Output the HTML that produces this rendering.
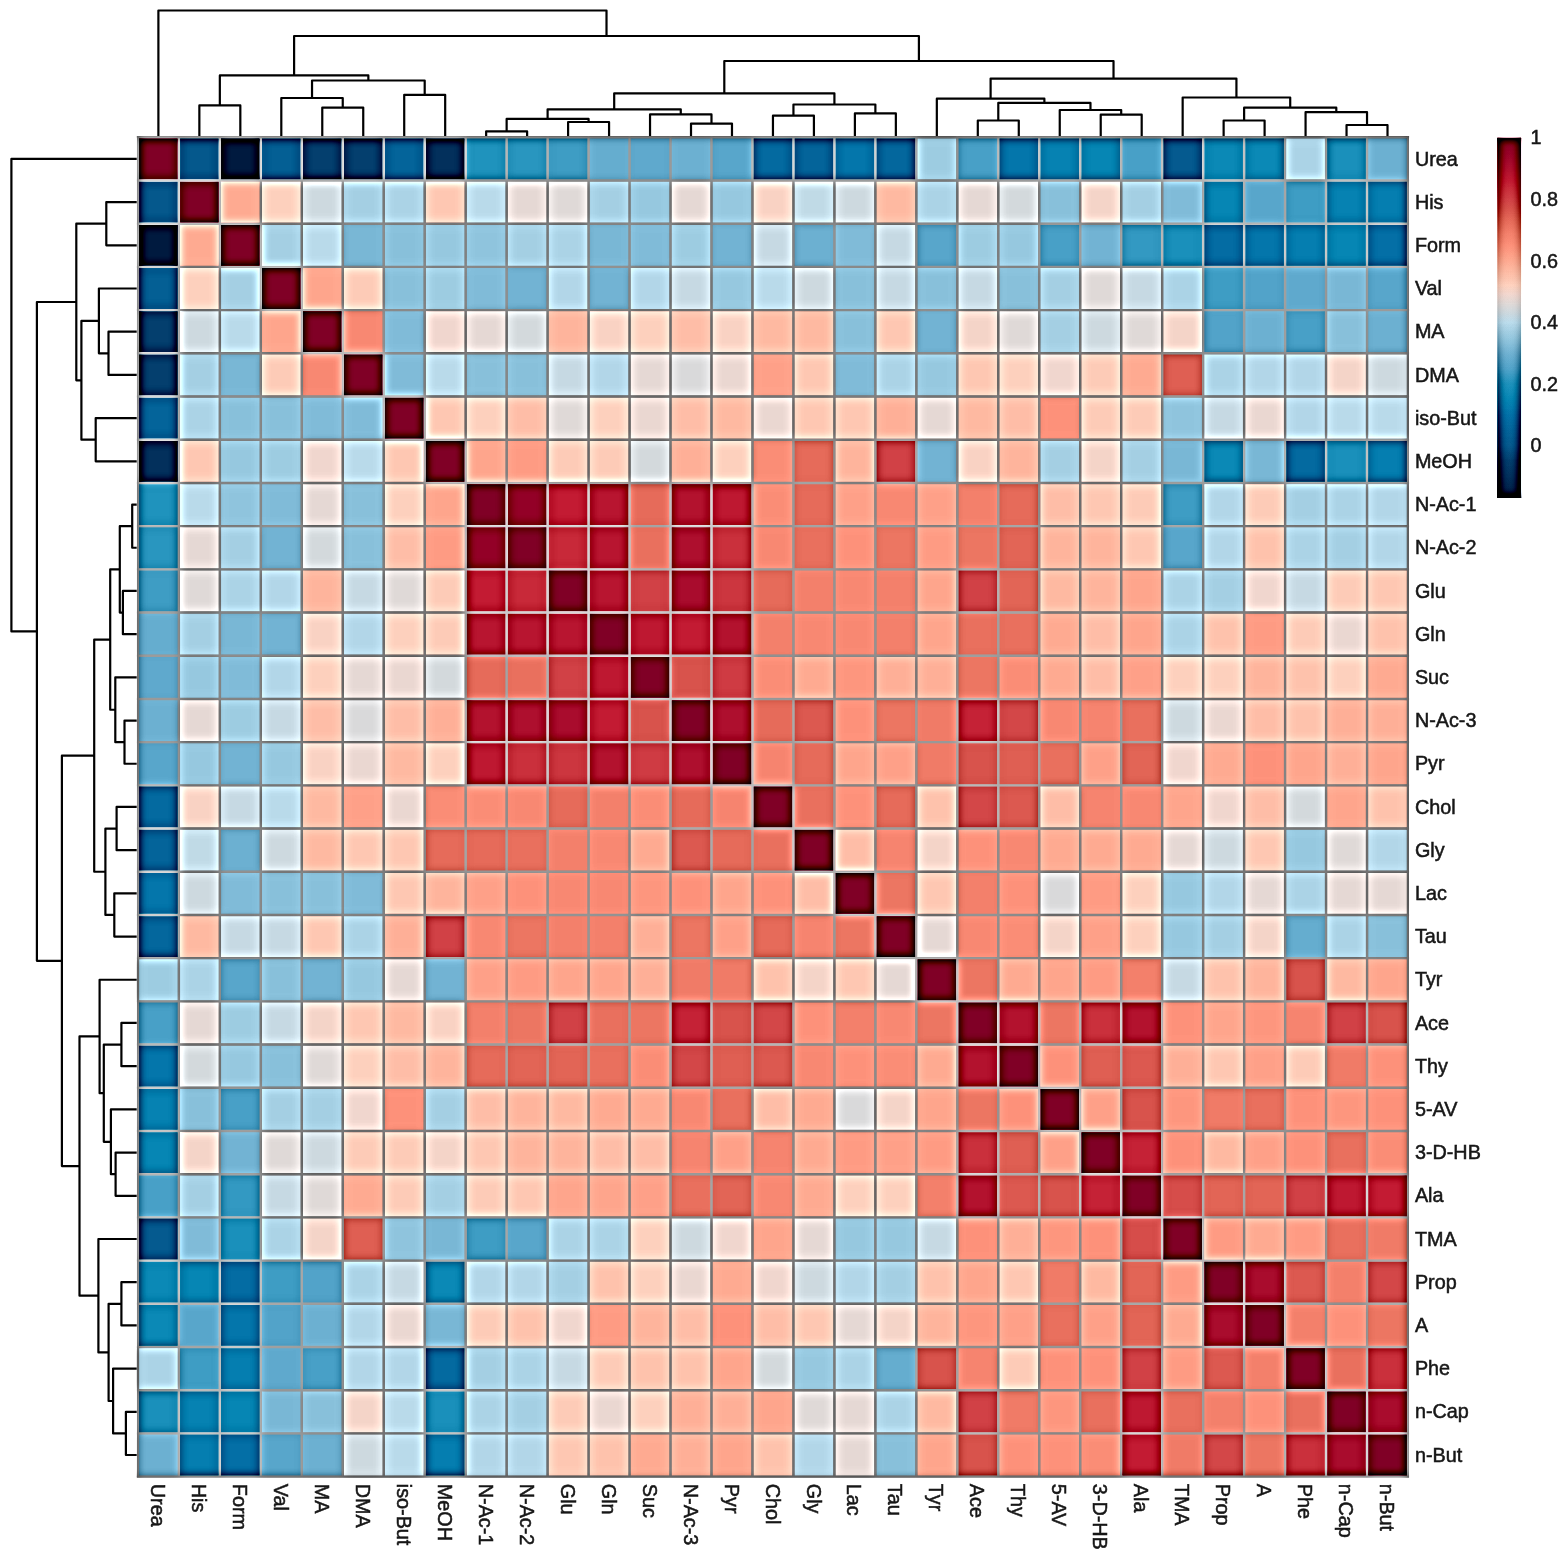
<!DOCTYPE html>
<html lang="en"><head><meta charset="utf-8"><title>Correlation heatmap</title>
<style>html,body{margin:0;padding:0;background:#fff}body{width:1566px;height:1556px;overflow:hidden}svg{display:block}</style>
</head><body>
<svg width="1566" height="1556" viewBox="0 0 1566 1556" font-family="'Liberation Sans', Arial, sans-serif" font-size="19.8" fill="#151515">
<defs><linearGradient id="cb" x1="0" y1="1" x2="0" y2="0">
<stop offset="0.0000" stop-color="#001a3f"/>
<stop offset="0.0598" stop-color="#03305c"/>
<stop offset="0.1026" stop-color="#043f6e"/>
<stop offset="0.1453" stop-color="#05588c"/>
<stop offset="0.1880" stop-color="#04649a"/>
<stop offset="0.2308" stop-color="#0472a9"/>
<stop offset="0.2735" stop-color="#0686b4"/>
<stop offset="0.3162" stop-color="#1f93bd"/>
<stop offset="0.3590" stop-color="#52a3c9"/>
<stop offset="0.4017" stop-color="#72b3d3"/>
<stop offset="0.4444" stop-color="#96c8df"/>
<stop offset="0.4872" stop-color="#b9daea"/>
<stop offset="0.5128" stop-color="#cdd9df"/>
<stop offset="0.5385" stop-color="#dfd9d7"/>
<stop offset="0.5641" stop-color="#f0d6ce"/>
<stop offset="0.5897" stop-color="#fdd0bd"/>
<stop offset="0.6154" stop-color="#fec2ac"/>
<stop offset="0.6410" stop-color="#feb49c"/>
<stop offset="0.6667" stop-color="#fea58c"/>
<stop offset="0.7009" stop-color="#fd917a"/>
<stop offset="0.7350" stop-color="#f3806b"/>
<stop offset="0.7692" stop-color="#e66b5a"/>
<stop offset="0.8034" stop-color="#d8534c"/>
<stop offset="0.8291" stop-color="#d14146"/>
<stop offset="0.8547" stop-color="#ca303c"/>
<stop offset="0.8803" stop-color="#c31b33"/>
<stop offset="0.9060" stop-color="#b3122e"/>
<stop offset="0.9231" stop-color="#a90c2d"/>
<stop offset="0.9658" stop-color="#930027"/>
<stop offset="1.0000" stop-color="#800026"/>
</linearGradient>
<filter id="sh" x="0" y="0" width="1566" height="1556" filterUnits="userSpaceOnUse" color-interpolation-filters="sRGB">
<feGaussianBlur in="SourceGraphic" stdDeviation="0.5" result="S"/>
<feColorMatrix in="S" type="matrix" values="0.299 0.587 0.114 0 0  0 0 0 0 0  0 0 0 0 0  0 0 0 0 1" result="L"/>
<feGaussianBlur in="L" stdDeviation="4.2" result="Lb0"/>
<feColorMatrix in="Lb0" type="matrix" values="0 0 0 0 0  1 0 0 0 0  0 0 0 0 0  0 0 0 0 1" result="Lb"/>
<feComposite in="L" in2="Lb" operator="arithmetic" k1="0" k2="1" k3="1" k4="0" result="P"/>
<feColorMatrix in="P" type="matrix" values="0.5 -0.5 0 0 0.5  0.5 -0.5 0 0 0.5  0.5 -0.5 0 0 0.5  0 0 0 0 1" result="D"/>
<feComposite in="S" in2="D" operator="arithmetic" k1="0" k2="1" k3="3.4" k4="-1.7"/>
</filter>
<filter id="soft" x="0" y="0" width="1566" height="1556" filterUnits="userSpaceOnUse"><feGaussianBlur stdDeviation="0.6"/></filter></defs>
<g filter="url(#sh)"><rect x="0" y="0" width="1566" height="1556" fill="#fff"/>
<g id="hm" shape-rendering="crispEdges">
<rect x="137.90" y="137.30" width="41.02" height="43.25" fill="#800026"/>
<rect x="178.87" y="137.30" width="41.02" height="43.25" fill="#05588c"/>
<rect x="219.84" y="137.30" width="41.02" height="43.25" fill="#001a3f"/>
<rect x="260.81" y="137.30" width="41.02" height="43.25" fill="#045f94"/>
<rect x="301.78" y="137.30" width="41.02" height="43.25" fill="#043f6e"/>
<rect x="342.75" y="137.30" width="41.02" height="43.25" fill="#043f6e"/>
<rect x="383.73" y="137.30" width="41.02" height="43.25" fill="#04649a"/>
<rect x="424.70" y="137.30" width="41.02" height="43.25" fill="#03305c"/>
<rect x="465.67" y="137.30" width="41.02" height="43.25" fill="#1f93bd"/>
<rect x="506.64" y="137.30" width="41.02" height="43.25" fill="#2996bf"/>
<rect x="547.61" y="137.30" width="41.02" height="43.25" fill="#3e9dc4"/>
<rect x="588.58" y="137.30" width="41.02" height="43.25" fill="#65adcf"/>
<rect x="629.55" y="137.30" width="41.02" height="43.25" fill="#5fa9cd"/>
<rect x="670.52" y="137.30" width="41.02" height="43.25" fill="#6cb0d1"/>
<rect x="711.49" y="137.30" width="41.02" height="43.25" fill="#58a6cb"/>
<rect x="752.46" y="137.30" width="41.02" height="43.25" fill="#046aa0"/>
<rect x="793.44" y="137.30" width="41.02" height="43.25" fill="#04649a"/>
<rect x="834.41" y="137.30" width="41.02" height="43.25" fill="#0476ab"/>
<rect x="875.38" y="137.30" width="41.02" height="43.25" fill="#04679d"/>
<rect x="916.35" y="137.30" width="41.02" height="43.25" fill="#9dcce1"/>
<rect x="957.32" y="137.30" width="41.02" height="43.25" fill="#48a0c7"/>
<rect x="998.29" y="137.30" width="41.02" height="43.25" fill="#0476ab"/>
<rect x="1039.26" y="137.30" width="41.02" height="43.25" fill="#0682b2"/>
<rect x="1080.23" y="137.30" width="41.02" height="43.25" fill="#0686b4"/>
<rect x="1121.20" y="137.30" width="41.02" height="43.25" fill="#48a0c7"/>
<rect x="1162.17" y="137.30" width="41.02" height="43.25" fill="#055a8f"/>
<rect x="1203.15" y="137.30" width="41.02" height="43.25" fill="#0b89b6"/>
<rect x="1244.12" y="137.30" width="41.02" height="43.25" fill="#0b89b6"/>
<rect x="1285.09" y="137.30" width="41.02" height="43.25" fill="#abd3e6"/>
<rect x="1326.06" y="137.30" width="41.02" height="43.25" fill="#1a90bb"/>
<rect x="1367.03" y="137.30" width="41.02" height="43.25" fill="#6cb0d1"/>
<rect x="137.90" y="180.50" width="41.02" height="43.25" fill="#05588c"/>
<rect x="178.87" y="180.50" width="41.02" height="43.25" fill="#800026"/>
<rect x="219.84" y="180.50" width="41.02" height="43.25" fill="#feaa91"/>
<rect x="260.81" y="180.50" width="41.02" height="43.25" fill="#fdd0bd"/>
<rect x="301.78" y="180.50" width="41.02" height="43.25" fill="#cdd9df"/>
<rect x="342.75" y="180.50" width="41.02" height="43.25" fill="#a4cfe3"/>
<rect x="383.73" y="180.50" width="41.02" height="43.25" fill="#abd3e6"/>
<rect x="424.70" y="180.50" width="41.02" height="43.25" fill="#fec7b2"/>
<rect x="465.67" y="180.50" width="41.02" height="43.25" fill="#b9daea"/>
<rect x="506.64" y="180.50" width="41.02" height="43.25" fill="#e5d8d4"/>
<rect x="547.61" y="180.50" width="41.02" height="43.25" fill="#dfd9d7"/>
<rect x="588.58" y="180.50" width="41.02" height="43.25" fill="#a4cfe3"/>
<rect x="629.55" y="180.50" width="41.02" height="43.25" fill="#96c8df"/>
<rect x="670.52" y="180.50" width="41.02" height="43.25" fill="#e5d8d4"/>
<rect x="711.49" y="180.50" width="41.02" height="43.25" fill="#96c8df"/>
<rect x="752.46" y="180.50" width="41.02" height="43.25" fill="#f9d2c3"/>
<rect x="793.44" y="180.50" width="41.02" height="43.25" fill="#c0dae6"/>
<rect x="834.41" y="180.50" width="41.02" height="43.25" fill="#cdd9df"/>
<rect x="875.38" y="180.50" width="41.02" height="43.25" fill="#feb9a1"/>
<rect x="916.35" y="180.50" width="41.02" height="43.25" fill="#abd3e6"/>
<rect x="957.32" y="180.50" width="41.02" height="43.25" fill="#e5d8d4"/>
<rect x="998.29" y="180.50" width="41.02" height="43.25" fill="#d3d9dc"/>
<rect x="1039.26" y="180.50" width="41.02" height="43.25" fill="#88c0da"/>
<rect x="1080.23" y="180.50" width="41.02" height="43.25" fill="#f4d4c8"/>
<rect x="1121.20" y="180.50" width="41.02" height="43.25" fill="#a4cfe3"/>
<rect x="1162.17" y="180.50" width="41.02" height="43.25" fill="#80bbd8"/>
<rect x="1203.15" y="180.50" width="41.02" height="43.25" fill="#0686b4"/>
<rect x="1244.12" y="180.50" width="41.02" height="43.25" fill="#58a6cb"/>
<rect x="1285.09" y="180.50" width="41.02" height="43.25" fill="#3e9dc4"/>
<rect x="1326.06" y="180.50" width="41.02" height="43.25" fill="#0682b2"/>
<rect x="1367.03" y="180.50" width="41.02" height="43.25" fill="#057eb0"/>
<rect x="137.90" y="223.71" width="41.02" height="43.25" fill="#001a3f"/>
<rect x="178.87" y="223.71" width="41.02" height="43.25" fill="#feaa91"/>
<rect x="219.84" y="223.71" width="41.02" height="43.25" fill="#800026"/>
<rect x="260.81" y="223.71" width="41.02" height="43.25" fill="#a4cfe3"/>
<rect x="301.78" y="223.71" width="41.02" height="43.25" fill="#b9daea"/>
<rect x="342.75" y="223.71" width="41.02" height="43.25" fill="#79b7d5"/>
<rect x="383.73" y="223.71" width="41.02" height="43.25" fill="#88c0da"/>
<rect x="424.70" y="223.71" width="41.02" height="43.25" fill="#96c8df"/>
<rect x="465.67" y="223.71" width="41.02" height="43.25" fill="#8fc4dd"/>
<rect x="506.64" y="223.71" width="41.02" height="43.25" fill="#a4cfe3"/>
<rect x="547.61" y="223.71" width="41.02" height="43.25" fill="#abd3e6"/>
<rect x="588.58" y="223.71" width="41.02" height="43.25" fill="#79b7d5"/>
<rect x="629.55" y="223.71" width="41.02" height="43.25" fill="#80bbd8"/>
<rect x="670.52" y="223.71" width="41.02" height="43.25" fill="#9dcce1"/>
<rect x="711.49" y="223.71" width="41.02" height="43.25" fill="#72b3d3"/>
<rect x="752.46" y="223.71" width="41.02" height="43.25" fill="#c6d9e3"/>
<rect x="793.44" y="223.71" width="41.02" height="43.25" fill="#6cb0d1"/>
<rect x="834.41" y="223.71" width="41.02" height="43.25" fill="#80bbd8"/>
<rect x="875.38" y="223.71" width="41.02" height="43.25" fill="#c6d9e3"/>
<rect x="916.35" y="223.71" width="41.02" height="43.25" fill="#58a6cb"/>
<rect x="957.32" y="223.71" width="41.02" height="43.25" fill="#9dcce1"/>
<rect x="998.29" y="223.71" width="41.02" height="43.25" fill="#96c8df"/>
<rect x="1039.26" y="223.71" width="41.02" height="43.25" fill="#48a0c7"/>
<rect x="1080.23" y="223.71" width="41.02" height="43.25" fill="#72b3d3"/>
<rect x="1121.20" y="223.71" width="41.02" height="43.25" fill="#3399c2"/>
<rect x="1162.17" y="223.71" width="41.02" height="43.25" fill="#1a90bb"/>
<rect x="1203.15" y="223.71" width="41.02" height="43.25" fill="#046ca3"/>
<rect x="1244.12" y="223.71" width="41.02" height="43.25" fill="#0476ab"/>
<rect x="1285.09" y="223.71" width="41.02" height="43.25" fill="#057eb0"/>
<rect x="1326.06" y="223.71" width="41.02" height="43.25" fill="#0686b4"/>
<rect x="1367.03" y="223.71" width="41.02" height="43.25" fill="#046fa6"/>
<rect x="137.90" y="266.91" width="41.02" height="43.25" fill="#045f94"/>
<rect x="178.87" y="266.91" width="41.02" height="43.25" fill="#fdd0bd"/>
<rect x="219.84" y="266.91" width="41.02" height="43.25" fill="#a4cfe3"/>
<rect x="260.81" y="266.91" width="41.02" height="43.25" fill="#800026"/>
<rect x="301.78" y="266.91" width="41.02" height="43.25" fill="#fea58c"/>
<rect x="342.75" y="266.91" width="41.02" height="43.25" fill="#fdcbb7"/>
<rect x="383.73" y="266.91" width="41.02" height="43.25" fill="#88c0da"/>
<rect x="424.70" y="266.91" width="41.02" height="43.25" fill="#9dcce1"/>
<rect x="465.67" y="266.91" width="41.02" height="43.25" fill="#80bbd8"/>
<rect x="506.64" y="266.91" width="41.02" height="43.25" fill="#72b3d3"/>
<rect x="547.61" y="266.91" width="41.02" height="43.25" fill="#b2d6e8"/>
<rect x="588.58" y="266.91" width="41.02" height="43.25" fill="#72b3d3"/>
<rect x="629.55" y="266.91" width="41.02" height="43.25" fill="#b2d6e8"/>
<rect x="670.52" y="266.91" width="41.02" height="43.25" fill="#c6d9e3"/>
<rect x="711.49" y="266.91" width="41.02" height="43.25" fill="#96c8df"/>
<rect x="752.46" y="266.91" width="41.02" height="43.25" fill="#b9daea"/>
<rect x="793.44" y="266.91" width="41.02" height="43.25" fill="#cdd9df"/>
<rect x="834.41" y="266.91" width="41.02" height="43.25" fill="#88c0da"/>
<rect x="875.38" y="266.91" width="41.02" height="43.25" fill="#c6d9e3"/>
<rect x="916.35" y="266.91" width="41.02" height="43.25" fill="#88c0da"/>
<rect x="957.32" y="266.91" width="41.02" height="43.25" fill="#c6d9e3"/>
<rect x="998.29" y="266.91" width="41.02" height="43.25" fill="#88c0da"/>
<rect x="1039.26" y="266.91" width="41.02" height="43.25" fill="#a4cfe3"/>
<rect x="1080.23" y="266.91" width="41.02" height="43.25" fill="#dfd9d7"/>
<rect x="1121.20" y="266.91" width="41.02" height="43.25" fill="#c6d9e3"/>
<rect x="1162.17" y="266.91" width="41.02" height="43.25" fill="#abd3e6"/>
<rect x="1203.15" y="266.91" width="41.02" height="43.25" fill="#3e9dc4"/>
<rect x="1244.12" y="266.91" width="41.02" height="43.25" fill="#52a3c9"/>
<rect x="1285.09" y="266.91" width="41.02" height="43.25" fill="#5fa9cd"/>
<rect x="1326.06" y="266.91" width="41.02" height="43.25" fill="#79b7d5"/>
<rect x="1367.03" y="266.91" width="41.02" height="43.25" fill="#58a6cb"/>
<rect x="137.90" y="310.11" width="41.02" height="43.25" fill="#043f6e"/>
<rect x="178.87" y="310.11" width="41.02" height="43.25" fill="#cdd9df"/>
<rect x="219.84" y="310.11" width="41.02" height="43.25" fill="#b9daea"/>
<rect x="260.81" y="310.11" width="41.02" height="43.25" fill="#fea58c"/>
<rect x="301.78" y="310.11" width="41.02" height="43.25" fill="#800026"/>
<rect x="342.75" y="310.11" width="41.02" height="43.25" fill="#f88872"/>
<rect x="383.73" y="310.11" width="41.02" height="43.25" fill="#80bbd8"/>
<rect x="424.70" y="310.11" width="41.02" height="43.25" fill="#f0d6ce"/>
<rect x="465.67" y="310.11" width="41.02" height="43.25" fill="#e5d8d4"/>
<rect x="506.64" y="310.11" width="41.02" height="43.25" fill="#d3d9dc"/>
<rect x="547.61" y="310.11" width="41.02" height="43.25" fill="#feb49c"/>
<rect x="588.58" y="310.11" width="41.02" height="43.25" fill="#f9d2c3"/>
<rect x="629.55" y="310.11" width="41.02" height="43.25" fill="#fdd0bd"/>
<rect x="670.52" y="310.11" width="41.02" height="43.25" fill="#febda7"/>
<rect x="711.49" y="310.11" width="41.02" height="43.25" fill="#f9d2c3"/>
<rect x="752.46" y="310.11" width="41.02" height="43.25" fill="#feb9a1"/>
<rect x="793.44" y="310.11" width="41.02" height="43.25" fill="#feb9a1"/>
<rect x="834.41" y="310.11" width="41.02" height="43.25" fill="#88c0da"/>
<rect x="875.38" y="310.11" width="41.02" height="43.25" fill="#fec7b2"/>
<rect x="916.35" y="310.11" width="41.02" height="43.25" fill="#72b3d3"/>
<rect x="957.32" y="310.11" width="41.02" height="43.25" fill="#f4d4c8"/>
<rect x="998.29" y="310.11" width="41.02" height="43.25" fill="#dfd9d7"/>
<rect x="1039.26" y="310.11" width="41.02" height="43.25" fill="#a4cfe3"/>
<rect x="1080.23" y="310.11" width="41.02" height="43.25" fill="#cdd9df"/>
<rect x="1121.20" y="310.11" width="41.02" height="43.25" fill="#dfd9d7"/>
<rect x="1162.17" y="310.11" width="41.02" height="43.25" fill="#f4d4c8"/>
<rect x="1203.15" y="310.11" width="41.02" height="43.25" fill="#52a3c9"/>
<rect x="1244.12" y="310.11" width="41.02" height="43.25" fill="#6cb0d1"/>
<rect x="1285.09" y="310.11" width="41.02" height="43.25" fill="#48a0c7"/>
<rect x="1326.06" y="310.11" width="41.02" height="43.25" fill="#88c0da"/>
<rect x="1367.03" y="310.11" width="41.02" height="43.25" fill="#6cb0d1"/>
<rect x="137.90" y="353.32" width="41.02" height="43.25" fill="#043f6e"/>
<rect x="178.87" y="353.32" width="41.02" height="43.25" fill="#a4cfe3"/>
<rect x="219.84" y="353.32" width="41.02" height="43.25" fill="#79b7d5"/>
<rect x="260.81" y="353.32" width="41.02" height="43.25" fill="#fdcbb7"/>
<rect x="301.78" y="353.32" width="41.02" height="43.25" fill="#f88872"/>
<rect x="342.75" y="353.32" width="41.02" height="43.25" fill="#800026"/>
<rect x="383.73" y="353.32" width="41.02" height="43.25" fill="#80bbd8"/>
<rect x="424.70" y="353.32" width="41.02" height="43.25" fill="#b9daea"/>
<rect x="465.67" y="353.32" width="41.02" height="43.25" fill="#88c0da"/>
<rect x="506.64" y="353.32" width="41.02" height="43.25" fill="#88c0da"/>
<rect x="547.61" y="353.32" width="41.02" height="43.25" fill="#c6d9e3"/>
<rect x="588.58" y="353.32" width="41.02" height="43.25" fill="#b2d6e8"/>
<rect x="629.55" y="353.32" width="41.02" height="43.25" fill="#e5d8d4"/>
<rect x="670.52" y="353.32" width="41.02" height="43.25" fill="#d9d9da"/>
<rect x="711.49" y="353.32" width="41.02" height="43.25" fill="#ead7d1"/>
<rect x="752.46" y="353.32" width="41.02" height="43.25" fill="#fea088"/>
<rect x="793.44" y="353.32" width="41.02" height="43.25" fill="#fec7b2"/>
<rect x="834.41" y="353.32" width="41.02" height="43.25" fill="#80bbd8"/>
<rect x="875.38" y="353.32" width="41.02" height="43.25" fill="#abd3e6"/>
<rect x="916.35" y="353.32" width="41.02" height="43.25" fill="#96c8df"/>
<rect x="957.32" y="353.32" width="41.02" height="43.25" fill="#fec7b2"/>
<rect x="998.29" y="353.32" width="41.02" height="43.25" fill="#fdd0bd"/>
<rect x="1039.26" y="353.32" width="41.02" height="43.25" fill="#f0d6ce"/>
<rect x="1080.23" y="353.32" width="41.02" height="43.25" fill="#fdcbb7"/>
<rect x="1121.20" y="353.32" width="41.02" height="43.25" fill="#feaa91"/>
<rect x="1162.17" y="353.32" width="41.02" height="43.25" fill="#df5f53"/>
<rect x="1203.15" y="353.32" width="41.02" height="43.25" fill="#abd3e6"/>
<rect x="1244.12" y="353.32" width="41.02" height="43.25" fill="#b2d6e8"/>
<rect x="1285.09" y="353.32" width="41.02" height="43.25" fill="#b2d6e8"/>
<rect x="1326.06" y="353.32" width="41.02" height="43.25" fill="#f4d4c8"/>
<rect x="1367.03" y="353.32" width="41.02" height="43.25" fill="#cdd9df"/>
<rect x="137.90" y="396.52" width="41.02" height="43.25" fill="#04649a"/>
<rect x="178.87" y="396.52" width="41.02" height="43.25" fill="#abd3e6"/>
<rect x="219.84" y="396.52" width="41.02" height="43.25" fill="#88c0da"/>
<rect x="260.81" y="396.52" width="41.02" height="43.25" fill="#88c0da"/>
<rect x="301.78" y="396.52" width="41.02" height="43.25" fill="#80bbd8"/>
<rect x="342.75" y="396.52" width="41.02" height="43.25" fill="#80bbd8"/>
<rect x="383.73" y="396.52" width="41.02" height="43.25" fill="#800026"/>
<rect x="424.70" y="396.52" width="41.02" height="43.25" fill="#fec7b2"/>
<rect x="465.67" y="396.52" width="41.02" height="43.25" fill="#fdd0bd"/>
<rect x="506.64" y="396.52" width="41.02" height="43.25" fill="#febda7"/>
<rect x="547.61" y="396.52" width="41.02" height="43.25" fill="#dfd9d7"/>
<rect x="588.58" y="396.52" width="41.02" height="43.25" fill="#fdd0bd"/>
<rect x="629.55" y="396.52" width="41.02" height="43.25" fill="#ead7d1"/>
<rect x="670.52" y="396.52" width="41.02" height="43.25" fill="#febda7"/>
<rect x="711.49" y="396.52" width="41.02" height="43.25" fill="#feb9a1"/>
<rect x="752.46" y="396.52" width="41.02" height="43.25" fill="#ead7d1"/>
<rect x="793.44" y="396.52" width="41.02" height="43.25" fill="#fec7b2"/>
<rect x="834.41" y="396.52" width="41.02" height="43.25" fill="#fec7b2"/>
<rect x="875.38" y="396.52" width="41.02" height="43.25" fill="#feaf97"/>
<rect x="916.35" y="396.52" width="41.02" height="43.25" fill="#e5d8d4"/>
<rect x="957.32" y="396.52" width="41.02" height="43.25" fill="#feb9a1"/>
<rect x="998.29" y="396.52" width="41.02" height="43.25" fill="#febda7"/>
<rect x="1039.26" y="396.52" width="41.02" height="43.25" fill="#fd917a"/>
<rect x="1080.23" y="396.52" width="41.02" height="43.25" fill="#fdcbb7"/>
<rect x="1121.20" y="396.52" width="41.02" height="43.25" fill="#fdcbb7"/>
<rect x="1162.17" y="396.52" width="41.02" height="43.25" fill="#8fc4dd"/>
<rect x="1203.15" y="396.52" width="41.02" height="43.25" fill="#c6d9e3"/>
<rect x="1244.12" y="396.52" width="41.02" height="43.25" fill="#ead7d1"/>
<rect x="1285.09" y="396.52" width="41.02" height="43.25" fill="#b2d6e8"/>
<rect x="1326.06" y="396.52" width="41.02" height="43.25" fill="#b9daea"/>
<rect x="1367.03" y="396.52" width="41.02" height="43.25" fill="#b9daea"/>
<rect x="137.90" y="439.72" width="41.02" height="43.25" fill="#03305c"/>
<rect x="178.87" y="439.72" width="41.02" height="43.25" fill="#fec7b2"/>
<rect x="219.84" y="439.72" width="41.02" height="43.25" fill="#96c8df"/>
<rect x="260.81" y="439.72" width="41.02" height="43.25" fill="#9dcce1"/>
<rect x="301.78" y="439.72" width="41.02" height="43.25" fill="#f0d6ce"/>
<rect x="342.75" y="439.72" width="41.02" height="43.25" fill="#b9daea"/>
<rect x="383.73" y="439.72" width="41.02" height="43.25" fill="#fec7b2"/>
<rect x="424.70" y="439.72" width="41.02" height="43.25" fill="#800026"/>
<rect x="465.67" y="439.72" width="41.02" height="43.25" fill="#fea58c"/>
<rect x="506.64" y="439.72" width="41.02" height="43.25" fill="#fe9b83"/>
<rect x="547.61" y="439.72" width="41.02" height="43.25" fill="#fdcbb7"/>
<rect x="588.58" y="439.72" width="41.02" height="43.25" fill="#fdcbb7"/>
<rect x="629.55" y="439.72" width="41.02" height="43.25" fill="#d3d9dc"/>
<rect x="670.52" y="439.72" width="41.02" height="43.25" fill="#feaf97"/>
<rect x="711.49" y="439.72" width="41.02" height="43.25" fill="#fdd0bd"/>
<rect x="752.46" y="439.72" width="41.02" height="43.25" fill="#fa8d76"/>
<rect x="793.44" y="439.72" width="41.02" height="43.25" fill="#e66b5a"/>
<rect x="834.41" y="439.72" width="41.02" height="43.25" fill="#feb49c"/>
<rect x="875.38" y="439.72" width="41.02" height="43.25" fill="#d14146"/>
<rect x="916.35" y="439.72" width="41.02" height="43.25" fill="#72b3d3"/>
<rect x="957.32" y="439.72" width="41.02" height="43.25" fill="#f9d2c3"/>
<rect x="998.29" y="439.72" width="41.02" height="43.25" fill="#feb49c"/>
<rect x="1039.26" y="439.72" width="41.02" height="43.25" fill="#a4cfe3"/>
<rect x="1080.23" y="439.72" width="41.02" height="43.25" fill="#f4d4c8"/>
<rect x="1121.20" y="439.72" width="41.02" height="43.25" fill="#a4cfe3"/>
<rect x="1162.17" y="439.72" width="41.02" height="43.25" fill="#79b7d5"/>
<rect x="1203.15" y="439.72" width="41.02" height="43.25" fill="#0b89b6"/>
<rect x="1244.12" y="439.72" width="41.02" height="43.25" fill="#79b7d5"/>
<rect x="1285.09" y="439.72" width="41.02" height="43.25" fill="#046aa0"/>
<rect x="1326.06" y="439.72" width="41.02" height="43.25" fill="#1a90bb"/>
<rect x="1367.03" y="439.72" width="41.02" height="43.25" fill="#057eb0"/>
<rect x="137.90" y="482.93" width="41.02" height="43.25" fill="#1f93bd"/>
<rect x="178.87" y="482.93" width="41.02" height="43.25" fill="#b9daea"/>
<rect x="219.84" y="482.93" width="41.02" height="43.25" fill="#8fc4dd"/>
<rect x="260.81" y="482.93" width="41.02" height="43.25" fill="#80bbd8"/>
<rect x="301.78" y="482.93" width="41.02" height="43.25" fill="#e5d8d4"/>
<rect x="342.75" y="482.93" width="41.02" height="43.25" fill="#88c0da"/>
<rect x="383.73" y="482.93" width="41.02" height="43.25" fill="#fdd0bd"/>
<rect x="424.70" y="482.93" width="41.02" height="43.25" fill="#fea58c"/>
<rect x="465.67" y="482.93" width="41.02" height="43.25" fill="#800026"/>
<rect x="506.64" y="482.93" width="41.02" height="43.25" fill="#930027"/>
<rect x="547.61" y="482.93" width="41.02" height="43.25" fill="#c31b33"/>
<rect x="588.58" y="482.93" width="41.02" height="43.25" fill="#b81530"/>
<rect x="629.55" y="482.93" width="41.02" height="43.25" fill="#e66b5a"/>
<rect x="670.52" y="482.93" width="41.02" height="43.25" fill="#b3122e"/>
<rect x="711.49" y="482.93" width="41.02" height="43.25" fill="#be1831"/>
<rect x="752.46" y="482.93" width="41.02" height="43.25" fill="#fa8d76"/>
<rect x="793.44" y="482.93" width="41.02" height="43.25" fill="#e66b5a"/>
<rect x="834.41" y="482.93" width="41.02" height="43.25" fill="#fea088"/>
<rect x="875.38" y="482.93" width="41.02" height="43.25" fill="#f88872"/>
<rect x="916.35" y="482.93" width="41.02" height="43.25" fill="#fea088"/>
<rect x="957.32" y="482.93" width="41.02" height="43.25" fill="#f3806b"/>
<rect x="998.29" y="482.93" width="41.02" height="43.25" fill="#e66b5a"/>
<rect x="1039.26" y="482.93" width="41.02" height="43.25" fill="#febda7"/>
<rect x="1080.23" y="482.93" width="41.02" height="43.25" fill="#fec7b2"/>
<rect x="1121.20" y="482.93" width="41.02" height="43.25" fill="#fdcbb7"/>
<rect x="1162.17" y="482.93" width="41.02" height="43.25" fill="#3e9dc4"/>
<rect x="1203.15" y="482.93" width="41.02" height="43.25" fill="#b2d6e8"/>
<rect x="1244.12" y="482.93" width="41.02" height="43.25" fill="#fdcbb7"/>
<rect x="1285.09" y="482.93" width="41.02" height="43.25" fill="#a4cfe3"/>
<rect x="1326.06" y="482.93" width="41.02" height="43.25" fill="#abd3e6"/>
<rect x="1367.03" y="482.93" width="41.02" height="43.25" fill="#b2d6e8"/>
<rect x="137.90" y="526.13" width="41.02" height="43.25" fill="#2996bf"/>
<rect x="178.87" y="526.13" width="41.02" height="43.25" fill="#e5d8d4"/>
<rect x="219.84" y="526.13" width="41.02" height="43.25" fill="#a4cfe3"/>
<rect x="260.81" y="526.13" width="41.02" height="43.25" fill="#72b3d3"/>
<rect x="301.78" y="526.13" width="41.02" height="43.25" fill="#d3d9dc"/>
<rect x="342.75" y="526.13" width="41.02" height="43.25" fill="#88c0da"/>
<rect x="383.73" y="526.13" width="41.02" height="43.25" fill="#febda7"/>
<rect x="424.70" y="526.13" width="41.02" height="43.25" fill="#fe9b83"/>
<rect x="465.67" y="526.13" width="41.02" height="43.25" fill="#930027"/>
<rect x="506.64" y="526.13" width="41.02" height="43.25" fill="#800026"/>
<rect x="547.61" y="526.13" width="41.02" height="43.25" fill="#c82939"/>
<rect x="588.58" y="526.13" width="41.02" height="43.25" fill="#b81530"/>
<rect x="629.55" y="526.13" width="41.02" height="43.25" fill="#e9705e"/>
<rect x="670.52" y="526.13" width="41.02" height="43.25" fill="#ae0f2e"/>
<rect x="711.49" y="526.13" width="41.02" height="43.25" fill="#ca303c"/>
<rect x="752.46" y="526.13" width="41.02" height="43.25" fill="#f88872"/>
<rect x="793.44" y="526.13" width="41.02" height="43.25" fill="#e9705e"/>
<rect x="834.41" y="526.13" width="41.02" height="43.25" fill="#fd917a"/>
<rect x="875.38" y="526.13" width="41.02" height="43.25" fill="#ec7662"/>
<rect x="916.35" y="526.13" width="41.02" height="43.25" fill="#fe9b83"/>
<rect x="957.32" y="526.13" width="41.02" height="43.25" fill="#ec7662"/>
<rect x="998.29" y="526.13" width="41.02" height="43.25" fill="#e26556"/>
<rect x="1039.26" y="526.13" width="41.02" height="43.25" fill="#feb49c"/>
<rect x="1080.23" y="526.13" width="41.02" height="43.25" fill="#feb49c"/>
<rect x="1121.20" y="526.13" width="41.02" height="43.25" fill="#fec7b2"/>
<rect x="1162.17" y="526.13" width="41.02" height="43.25" fill="#58a6cb"/>
<rect x="1203.15" y="526.13" width="41.02" height="43.25" fill="#b2d6e8"/>
<rect x="1244.12" y="526.13" width="41.02" height="43.25" fill="#fec2ac"/>
<rect x="1285.09" y="526.13" width="41.02" height="43.25" fill="#abd3e6"/>
<rect x="1326.06" y="526.13" width="41.02" height="43.25" fill="#a4cfe3"/>
<rect x="1367.03" y="526.13" width="41.02" height="43.25" fill="#b2d6e8"/>
<rect x="137.90" y="569.33" width="41.02" height="43.25" fill="#3e9dc4"/>
<rect x="178.87" y="569.33" width="41.02" height="43.25" fill="#dfd9d7"/>
<rect x="219.84" y="569.33" width="41.02" height="43.25" fill="#abd3e6"/>
<rect x="260.81" y="569.33" width="41.02" height="43.25" fill="#b2d6e8"/>
<rect x="301.78" y="569.33" width="41.02" height="43.25" fill="#feb49c"/>
<rect x="342.75" y="569.33" width="41.02" height="43.25" fill="#c6d9e3"/>
<rect x="383.73" y="569.33" width="41.02" height="43.25" fill="#dfd9d7"/>
<rect x="424.70" y="569.33" width="41.02" height="43.25" fill="#fdcbb7"/>
<rect x="465.67" y="569.33" width="41.02" height="43.25" fill="#c31b33"/>
<rect x="506.64" y="569.33" width="41.02" height="43.25" fill="#c82939"/>
<rect x="547.61" y="569.33" width="41.02" height="43.25" fill="#800026"/>
<rect x="588.58" y="569.33" width="41.02" height="43.25" fill="#b81530"/>
<rect x="629.55" y="569.33" width="41.02" height="43.25" fill="#d14146"/>
<rect x="670.52" y="569.33" width="41.02" height="43.25" fill="#a90c2d"/>
<rect x="711.49" y="569.33" width="41.02" height="43.25" fill="#cc363f"/>
<rect x="752.46" y="569.33" width="41.02" height="43.25" fill="#e66b5a"/>
<rect x="793.44" y="569.33" width="41.02" height="43.25" fill="#f3806b"/>
<rect x="834.41" y="569.33" width="41.02" height="43.25" fill="#f88872"/>
<rect x="875.38" y="569.33" width="41.02" height="43.25" fill="#f3806b"/>
<rect x="916.35" y="569.33" width="41.02" height="43.25" fill="#fea58c"/>
<rect x="957.32" y="569.33" width="41.02" height="43.25" fill="#d14146"/>
<rect x="998.29" y="569.33" width="41.02" height="43.25" fill="#e26556"/>
<rect x="1039.26" y="569.33" width="41.02" height="43.25" fill="#feb9a1"/>
<rect x="1080.23" y="569.33" width="41.02" height="43.25" fill="#feb49c"/>
<rect x="1121.20" y="569.33" width="41.02" height="43.25" fill="#fea58c"/>
<rect x="1162.17" y="569.33" width="41.02" height="43.25" fill="#abd3e6"/>
<rect x="1203.15" y="569.33" width="41.02" height="43.25" fill="#a4cfe3"/>
<rect x="1244.12" y="569.33" width="41.02" height="43.25" fill="#f0d6ce"/>
<rect x="1285.09" y="569.33" width="41.02" height="43.25" fill="#c6d9e3"/>
<rect x="1326.06" y="569.33" width="41.02" height="43.25" fill="#fdcbb7"/>
<rect x="1367.03" y="569.33" width="41.02" height="43.25" fill="#fec7b2"/>
<rect x="137.90" y="612.54" width="41.02" height="43.25" fill="#65adcf"/>
<rect x="178.87" y="612.54" width="41.02" height="43.25" fill="#a4cfe3"/>
<rect x="219.84" y="612.54" width="41.02" height="43.25" fill="#79b7d5"/>
<rect x="260.81" y="612.54" width="41.02" height="43.25" fill="#72b3d3"/>
<rect x="301.78" y="612.54" width="41.02" height="43.25" fill="#f9d2c3"/>
<rect x="342.75" y="612.54" width="41.02" height="43.25" fill="#b2d6e8"/>
<rect x="383.73" y="612.54" width="41.02" height="43.25" fill="#fdd0bd"/>
<rect x="424.70" y="612.54" width="41.02" height="43.25" fill="#fdcbb7"/>
<rect x="465.67" y="612.54" width="41.02" height="43.25" fill="#b81530"/>
<rect x="506.64" y="612.54" width="41.02" height="43.25" fill="#b81530"/>
<rect x="547.61" y="612.54" width="41.02" height="43.25" fill="#b81530"/>
<rect x="588.58" y="612.54" width="41.02" height="43.25" fill="#800026"/>
<rect x="629.55" y="612.54" width="41.02" height="43.25" fill="#be1831"/>
<rect x="670.52" y="612.54" width="41.02" height="43.25" fill="#c31b33"/>
<rect x="711.49" y="612.54" width="41.02" height="43.25" fill="#b3122e"/>
<rect x="752.46" y="612.54" width="41.02" height="43.25" fill="#f3806b"/>
<rect x="793.44" y="612.54" width="41.02" height="43.25" fill="#f88872"/>
<rect x="834.41" y="612.54" width="41.02" height="43.25" fill="#f88872"/>
<rect x="875.38" y="612.54" width="41.02" height="43.25" fill="#f3806b"/>
<rect x="916.35" y="612.54" width="41.02" height="43.25" fill="#fea58c"/>
<rect x="957.32" y="612.54" width="41.02" height="43.25" fill="#e9705e"/>
<rect x="998.29" y="612.54" width="41.02" height="43.25" fill="#e9705e"/>
<rect x="1039.26" y="612.54" width="41.02" height="43.25" fill="#feaa91"/>
<rect x="1080.23" y="612.54" width="41.02" height="43.25" fill="#febda7"/>
<rect x="1121.20" y="612.54" width="41.02" height="43.25" fill="#fea58c"/>
<rect x="1162.17" y="612.54" width="41.02" height="43.25" fill="#abd3e6"/>
<rect x="1203.15" y="612.54" width="41.02" height="43.25" fill="#fec2ac"/>
<rect x="1244.12" y="612.54" width="41.02" height="43.25" fill="#fe9b83"/>
<rect x="1285.09" y="612.54" width="41.02" height="43.25" fill="#fdcbb7"/>
<rect x="1326.06" y="612.54" width="41.02" height="43.25" fill="#ead7d1"/>
<rect x="1367.03" y="612.54" width="41.02" height="43.25" fill="#fec2ac"/>
<rect x="137.90" y="655.74" width="41.02" height="43.25" fill="#5fa9cd"/>
<rect x="178.87" y="655.74" width="41.02" height="43.25" fill="#96c8df"/>
<rect x="219.84" y="655.74" width="41.02" height="43.25" fill="#80bbd8"/>
<rect x="260.81" y="655.74" width="41.02" height="43.25" fill="#b2d6e8"/>
<rect x="301.78" y="655.74" width="41.02" height="43.25" fill="#fdd0bd"/>
<rect x="342.75" y="655.74" width="41.02" height="43.25" fill="#e5d8d4"/>
<rect x="383.73" y="655.74" width="41.02" height="43.25" fill="#ead7d1"/>
<rect x="424.70" y="655.74" width="41.02" height="43.25" fill="#d3d9dc"/>
<rect x="465.67" y="655.74" width="41.02" height="43.25" fill="#e66b5a"/>
<rect x="506.64" y="655.74" width="41.02" height="43.25" fill="#e9705e"/>
<rect x="547.61" y="655.74" width="41.02" height="43.25" fill="#d14146"/>
<rect x="588.58" y="655.74" width="41.02" height="43.25" fill="#be1831"/>
<rect x="629.55" y="655.74" width="41.02" height="43.25" fill="#800026"/>
<rect x="670.52" y="655.74" width="41.02" height="43.25" fill="#d8534c"/>
<rect x="711.49" y="655.74" width="41.02" height="43.25" fill="#cf3b43"/>
<rect x="752.46" y="655.74" width="41.02" height="43.25" fill="#fa8d76"/>
<rect x="793.44" y="655.74" width="41.02" height="43.25" fill="#feaa91"/>
<rect x="834.41" y="655.74" width="41.02" height="43.25" fill="#fd967e"/>
<rect x="875.38" y="655.74" width="41.02" height="43.25" fill="#feaf97"/>
<rect x="916.35" y="655.74" width="41.02" height="43.25" fill="#feaf97"/>
<rect x="957.32" y="655.74" width="41.02" height="43.25" fill="#ec7662"/>
<rect x="998.29" y="655.74" width="41.02" height="43.25" fill="#fa8d76"/>
<rect x="1039.26" y="655.74" width="41.02" height="43.25" fill="#feaa91"/>
<rect x="1080.23" y="655.74" width="41.02" height="43.25" fill="#febda7"/>
<rect x="1121.20" y="655.74" width="41.02" height="43.25" fill="#fea088"/>
<rect x="1162.17" y="655.74" width="41.02" height="43.25" fill="#fdd0bd"/>
<rect x="1203.15" y="655.74" width="41.02" height="43.25" fill="#fdd0bd"/>
<rect x="1244.12" y="655.74" width="41.02" height="43.25" fill="#feb49c"/>
<rect x="1285.09" y="655.74" width="41.02" height="43.25" fill="#fec2ac"/>
<rect x="1326.06" y="655.74" width="41.02" height="43.25" fill="#fdd0bd"/>
<rect x="1367.03" y="655.74" width="41.02" height="43.25" fill="#feaa91"/>
<rect x="137.90" y="698.94" width="41.02" height="43.25" fill="#6cb0d1"/>
<rect x="178.87" y="698.94" width="41.02" height="43.25" fill="#e5d8d4"/>
<rect x="219.84" y="698.94" width="41.02" height="43.25" fill="#9dcce1"/>
<rect x="260.81" y="698.94" width="41.02" height="43.25" fill="#c6d9e3"/>
<rect x="301.78" y="698.94" width="41.02" height="43.25" fill="#febda7"/>
<rect x="342.75" y="698.94" width="41.02" height="43.25" fill="#d9d9da"/>
<rect x="383.73" y="698.94" width="41.02" height="43.25" fill="#febda7"/>
<rect x="424.70" y="698.94" width="41.02" height="43.25" fill="#feaf97"/>
<rect x="465.67" y="698.94" width="41.02" height="43.25" fill="#b3122e"/>
<rect x="506.64" y="698.94" width="41.02" height="43.25" fill="#ae0f2e"/>
<rect x="547.61" y="698.94" width="41.02" height="43.25" fill="#a90c2d"/>
<rect x="588.58" y="698.94" width="41.02" height="43.25" fill="#c31b33"/>
<rect x="629.55" y="698.94" width="41.02" height="43.25" fill="#d8534c"/>
<rect x="670.52" y="698.94" width="41.02" height="43.25" fill="#800026"/>
<rect x="711.49" y="698.94" width="41.02" height="43.25" fill="#ae0f2e"/>
<rect x="752.46" y="698.94" width="41.02" height="43.25" fill="#e66b5a"/>
<rect x="793.44" y="698.94" width="41.02" height="43.25" fill="#dc5950"/>
<rect x="834.41" y="698.94" width="41.02" height="43.25" fill="#fd917a"/>
<rect x="875.38" y="698.94" width="41.02" height="43.25" fill="#ec7662"/>
<rect x="916.35" y="698.94" width="41.02" height="43.25" fill="#f07b67"/>
<rect x="957.32" y="698.94" width="41.02" height="43.25" fill="#c52236"/>
<rect x="998.29" y="698.94" width="41.02" height="43.25" fill="#d34748"/>
<rect x="1039.26" y="698.94" width="41.02" height="43.25" fill="#f88872"/>
<rect x="1080.23" y="698.94" width="41.02" height="43.25" fill="#f6846f"/>
<rect x="1121.20" y="698.94" width="41.02" height="43.25" fill="#e9705e"/>
<rect x="1162.17" y="698.94" width="41.02" height="43.25" fill="#cdd9df"/>
<rect x="1203.15" y="698.94" width="41.02" height="43.25" fill="#ead7d1"/>
<rect x="1244.12" y="698.94" width="41.02" height="43.25" fill="#febda7"/>
<rect x="1285.09" y="698.94" width="41.02" height="43.25" fill="#fec2ac"/>
<rect x="1326.06" y="698.94" width="41.02" height="43.25" fill="#feaf97"/>
<rect x="1367.03" y="698.94" width="41.02" height="43.25" fill="#feaf97"/>
<rect x="137.90" y="742.15" width="41.02" height="43.25" fill="#58a6cb"/>
<rect x="178.87" y="742.15" width="41.02" height="43.25" fill="#96c8df"/>
<rect x="219.84" y="742.15" width="41.02" height="43.25" fill="#72b3d3"/>
<rect x="260.81" y="742.15" width="41.02" height="43.25" fill="#96c8df"/>
<rect x="301.78" y="742.15" width="41.02" height="43.25" fill="#f9d2c3"/>
<rect x="342.75" y="742.15" width="41.02" height="43.25" fill="#ead7d1"/>
<rect x="383.73" y="742.15" width="41.02" height="43.25" fill="#feb9a1"/>
<rect x="424.70" y="742.15" width="41.02" height="43.25" fill="#fdd0bd"/>
<rect x="465.67" y="742.15" width="41.02" height="43.25" fill="#be1831"/>
<rect x="506.64" y="742.15" width="41.02" height="43.25" fill="#ca303c"/>
<rect x="547.61" y="742.15" width="41.02" height="43.25" fill="#cc363f"/>
<rect x="588.58" y="742.15" width="41.02" height="43.25" fill="#b3122e"/>
<rect x="629.55" y="742.15" width="41.02" height="43.25" fill="#cf3b43"/>
<rect x="670.52" y="742.15" width="41.02" height="43.25" fill="#ae0f2e"/>
<rect x="711.49" y="742.15" width="41.02" height="43.25" fill="#800026"/>
<rect x="752.46" y="742.15" width="41.02" height="43.25" fill="#f6846f"/>
<rect x="793.44" y="742.15" width="41.02" height="43.25" fill="#e66b5a"/>
<rect x="834.41" y="742.15" width="41.02" height="43.25" fill="#fea58c"/>
<rect x="875.38" y="742.15" width="41.02" height="43.25" fill="#fea088"/>
<rect x="916.35" y="742.15" width="41.02" height="43.25" fill="#f07b67"/>
<rect x="957.32" y="742.15" width="41.02" height="43.25" fill="#d8534c"/>
<rect x="998.29" y="742.15" width="41.02" height="43.25" fill="#df5f53"/>
<rect x="1039.26" y="742.15" width="41.02" height="43.25" fill="#e9705e"/>
<rect x="1080.23" y="742.15" width="41.02" height="43.25" fill="#fea088"/>
<rect x="1121.20" y="742.15" width="41.02" height="43.25" fill="#e26556"/>
<rect x="1162.17" y="742.15" width="41.02" height="43.25" fill="#f0d6ce"/>
<rect x="1203.15" y="742.15" width="41.02" height="43.25" fill="#feaa91"/>
<rect x="1244.12" y="742.15" width="41.02" height="43.25" fill="#fd917a"/>
<rect x="1285.09" y="742.15" width="41.02" height="43.25" fill="#fea58c"/>
<rect x="1326.06" y="742.15" width="41.02" height="43.25" fill="#feaf97"/>
<rect x="1367.03" y="742.15" width="41.02" height="43.25" fill="#fea58c"/>
<rect x="137.90" y="785.35" width="41.02" height="43.25" fill="#046aa0"/>
<rect x="178.87" y="785.35" width="41.02" height="43.25" fill="#f9d2c3"/>
<rect x="219.84" y="785.35" width="41.02" height="43.25" fill="#c6d9e3"/>
<rect x="260.81" y="785.35" width="41.02" height="43.25" fill="#b9daea"/>
<rect x="301.78" y="785.35" width="41.02" height="43.25" fill="#feb9a1"/>
<rect x="342.75" y="785.35" width="41.02" height="43.25" fill="#fea088"/>
<rect x="383.73" y="785.35" width="41.02" height="43.25" fill="#ead7d1"/>
<rect x="424.70" y="785.35" width="41.02" height="43.25" fill="#fa8d76"/>
<rect x="465.67" y="785.35" width="41.02" height="43.25" fill="#fa8d76"/>
<rect x="506.64" y="785.35" width="41.02" height="43.25" fill="#f88872"/>
<rect x="547.61" y="785.35" width="41.02" height="43.25" fill="#e66b5a"/>
<rect x="588.58" y="785.35" width="41.02" height="43.25" fill="#f3806b"/>
<rect x="629.55" y="785.35" width="41.02" height="43.25" fill="#fa8d76"/>
<rect x="670.52" y="785.35" width="41.02" height="43.25" fill="#e66b5a"/>
<rect x="711.49" y="785.35" width="41.02" height="43.25" fill="#f6846f"/>
<rect x="752.46" y="785.35" width="41.02" height="43.25" fill="#800026"/>
<rect x="793.44" y="785.35" width="41.02" height="43.25" fill="#e9705e"/>
<rect x="834.41" y="785.35" width="41.02" height="43.25" fill="#fd917a"/>
<rect x="875.38" y="785.35" width="41.02" height="43.25" fill="#e66b5a"/>
<rect x="916.35" y="785.35" width="41.02" height="43.25" fill="#fec2ac"/>
<rect x="957.32" y="785.35" width="41.02" height="43.25" fill="#d34748"/>
<rect x="998.29" y="785.35" width="41.02" height="43.25" fill="#dc5950"/>
<rect x="1039.26" y="785.35" width="41.02" height="43.25" fill="#febda7"/>
<rect x="1080.23" y="785.35" width="41.02" height="43.25" fill="#f6846f"/>
<rect x="1121.20" y="785.35" width="41.02" height="43.25" fill="#f88872"/>
<rect x="1162.17" y="785.35" width="41.02" height="43.25" fill="#fea58c"/>
<rect x="1203.15" y="785.35" width="41.02" height="43.25" fill="#f0d6ce"/>
<rect x="1244.12" y="785.35" width="41.02" height="43.25" fill="#febda7"/>
<rect x="1285.09" y="785.35" width="41.02" height="43.25" fill="#d3d9dc"/>
<rect x="1326.06" y="785.35" width="41.02" height="43.25" fill="#fea58c"/>
<rect x="1367.03" y="785.35" width="41.02" height="43.25" fill="#fec2ac"/>
<rect x="137.90" y="828.55" width="41.02" height="43.25" fill="#04649a"/>
<rect x="178.87" y="828.55" width="41.02" height="43.25" fill="#c0dae6"/>
<rect x="219.84" y="828.55" width="41.02" height="43.25" fill="#6cb0d1"/>
<rect x="260.81" y="828.55" width="41.02" height="43.25" fill="#cdd9df"/>
<rect x="301.78" y="828.55" width="41.02" height="43.25" fill="#feb9a1"/>
<rect x="342.75" y="828.55" width="41.02" height="43.25" fill="#fec7b2"/>
<rect x="383.73" y="828.55" width="41.02" height="43.25" fill="#fec7b2"/>
<rect x="424.70" y="828.55" width="41.02" height="43.25" fill="#e66b5a"/>
<rect x="465.67" y="828.55" width="41.02" height="43.25" fill="#e66b5a"/>
<rect x="506.64" y="828.55" width="41.02" height="43.25" fill="#e9705e"/>
<rect x="547.61" y="828.55" width="41.02" height="43.25" fill="#f3806b"/>
<rect x="588.58" y="828.55" width="41.02" height="43.25" fill="#f88872"/>
<rect x="629.55" y="828.55" width="41.02" height="43.25" fill="#feaa91"/>
<rect x="670.52" y="828.55" width="41.02" height="43.25" fill="#dc5950"/>
<rect x="711.49" y="828.55" width="41.02" height="43.25" fill="#e66b5a"/>
<rect x="752.46" y="828.55" width="41.02" height="43.25" fill="#e9705e"/>
<rect x="793.44" y="828.55" width="41.02" height="43.25" fill="#800026"/>
<rect x="834.41" y="828.55" width="41.02" height="43.25" fill="#febda7"/>
<rect x="875.38" y="828.55" width="41.02" height="43.25" fill="#f6846f"/>
<rect x="916.35" y="828.55" width="41.02" height="43.25" fill="#f4d4c8"/>
<rect x="957.32" y="828.55" width="41.02" height="43.25" fill="#fd917a"/>
<rect x="998.29" y="828.55" width="41.02" height="43.25" fill="#f88872"/>
<rect x="1039.26" y="828.55" width="41.02" height="43.25" fill="#feaa91"/>
<rect x="1080.23" y="828.55" width="41.02" height="43.25" fill="#feaa91"/>
<rect x="1121.20" y="828.55" width="41.02" height="43.25" fill="#feaa91"/>
<rect x="1162.17" y="828.55" width="41.02" height="43.25" fill="#e5d8d4"/>
<rect x="1203.15" y="828.55" width="41.02" height="43.25" fill="#cdd9df"/>
<rect x="1244.12" y="828.55" width="41.02" height="43.25" fill="#fec7b2"/>
<rect x="1285.09" y="828.55" width="41.02" height="43.25" fill="#96c8df"/>
<rect x="1326.06" y="828.55" width="41.02" height="43.25" fill="#dfd9d7"/>
<rect x="1367.03" y="828.55" width="41.02" height="43.25" fill="#b2d6e8"/>
<rect x="137.90" y="871.75" width="41.02" height="43.25" fill="#0476ab"/>
<rect x="178.87" y="871.75" width="41.02" height="43.25" fill="#cdd9df"/>
<rect x="219.84" y="871.75" width="41.02" height="43.25" fill="#80bbd8"/>
<rect x="260.81" y="871.75" width="41.02" height="43.25" fill="#88c0da"/>
<rect x="301.78" y="871.75" width="41.02" height="43.25" fill="#88c0da"/>
<rect x="342.75" y="871.75" width="41.02" height="43.25" fill="#80bbd8"/>
<rect x="383.73" y="871.75" width="41.02" height="43.25" fill="#fec7b2"/>
<rect x="424.70" y="871.75" width="41.02" height="43.25" fill="#feb49c"/>
<rect x="465.67" y="871.75" width="41.02" height="43.25" fill="#fea088"/>
<rect x="506.64" y="871.75" width="41.02" height="43.25" fill="#fd917a"/>
<rect x="547.61" y="871.75" width="41.02" height="43.25" fill="#f88872"/>
<rect x="588.58" y="871.75" width="41.02" height="43.25" fill="#f88872"/>
<rect x="629.55" y="871.75" width="41.02" height="43.25" fill="#fd967e"/>
<rect x="670.52" y="871.75" width="41.02" height="43.25" fill="#fd917a"/>
<rect x="711.49" y="871.75" width="41.02" height="43.25" fill="#fea58c"/>
<rect x="752.46" y="871.75" width="41.02" height="43.25" fill="#fd917a"/>
<rect x="793.44" y="871.75" width="41.02" height="43.25" fill="#febda7"/>
<rect x="834.41" y="871.75" width="41.02" height="43.25" fill="#800026"/>
<rect x="875.38" y="871.75" width="41.02" height="43.25" fill="#ec7662"/>
<rect x="916.35" y="871.75" width="41.02" height="43.25" fill="#fec7b2"/>
<rect x="957.32" y="871.75" width="41.02" height="43.25" fill="#f3806b"/>
<rect x="998.29" y="871.75" width="41.02" height="43.25" fill="#fd917a"/>
<rect x="1039.26" y="871.75" width="41.02" height="43.25" fill="#d9d9da"/>
<rect x="1080.23" y="871.75" width="41.02" height="43.25" fill="#fe9b83"/>
<rect x="1121.20" y="871.75" width="41.02" height="43.25" fill="#fdd0bd"/>
<rect x="1162.17" y="871.75" width="41.02" height="43.25" fill="#96c8df"/>
<rect x="1203.15" y="871.75" width="41.02" height="43.25" fill="#b2d6e8"/>
<rect x="1244.12" y="871.75" width="41.02" height="43.25" fill="#e5d8d4"/>
<rect x="1285.09" y="871.75" width="41.02" height="43.25" fill="#abd3e6"/>
<rect x="1326.06" y="871.75" width="41.02" height="43.25" fill="#e5d8d4"/>
<rect x="1367.03" y="871.75" width="41.02" height="43.25" fill="#e5d8d4"/>
<rect x="137.90" y="914.96" width="41.02" height="43.25" fill="#04679d"/>
<rect x="178.87" y="914.96" width="41.02" height="43.25" fill="#feb9a1"/>
<rect x="219.84" y="914.96" width="41.02" height="43.25" fill="#c6d9e3"/>
<rect x="260.81" y="914.96" width="41.02" height="43.25" fill="#c6d9e3"/>
<rect x="301.78" y="914.96" width="41.02" height="43.25" fill="#fec7b2"/>
<rect x="342.75" y="914.96" width="41.02" height="43.25" fill="#abd3e6"/>
<rect x="383.73" y="914.96" width="41.02" height="43.25" fill="#feaf97"/>
<rect x="424.70" y="914.96" width="41.02" height="43.25" fill="#d14146"/>
<rect x="465.67" y="914.96" width="41.02" height="43.25" fill="#f88872"/>
<rect x="506.64" y="914.96" width="41.02" height="43.25" fill="#ec7662"/>
<rect x="547.61" y="914.96" width="41.02" height="43.25" fill="#f3806b"/>
<rect x="588.58" y="914.96" width="41.02" height="43.25" fill="#f3806b"/>
<rect x="629.55" y="914.96" width="41.02" height="43.25" fill="#feaf97"/>
<rect x="670.52" y="914.96" width="41.02" height="43.25" fill="#ec7662"/>
<rect x="711.49" y="914.96" width="41.02" height="43.25" fill="#fea088"/>
<rect x="752.46" y="914.96" width="41.02" height="43.25" fill="#e66b5a"/>
<rect x="793.44" y="914.96" width="41.02" height="43.25" fill="#f6846f"/>
<rect x="834.41" y="914.96" width="41.02" height="43.25" fill="#ec7662"/>
<rect x="875.38" y="914.96" width="41.02" height="43.25" fill="#800026"/>
<rect x="916.35" y="914.96" width="41.02" height="43.25" fill="#e5d8d4"/>
<rect x="957.32" y="914.96" width="41.02" height="43.25" fill="#f88872"/>
<rect x="998.29" y="914.96" width="41.02" height="43.25" fill="#fa8d76"/>
<rect x="1039.26" y="914.96" width="41.02" height="43.25" fill="#f4d4c8"/>
<rect x="1080.23" y="914.96" width="41.02" height="43.25" fill="#fea088"/>
<rect x="1121.20" y="914.96" width="41.02" height="43.25" fill="#fdd0bd"/>
<rect x="1162.17" y="914.96" width="41.02" height="43.25" fill="#96c8df"/>
<rect x="1203.15" y="914.96" width="41.02" height="43.25" fill="#a4cfe3"/>
<rect x="1244.12" y="914.96" width="41.02" height="43.25" fill="#f4d4c8"/>
<rect x="1285.09" y="914.96" width="41.02" height="43.25" fill="#65adcf"/>
<rect x="1326.06" y="914.96" width="41.02" height="43.25" fill="#abd3e6"/>
<rect x="1367.03" y="914.96" width="41.02" height="43.25" fill="#88c0da"/>
<rect x="137.90" y="958.16" width="41.02" height="43.25" fill="#9dcce1"/>
<rect x="178.87" y="958.16" width="41.02" height="43.25" fill="#abd3e6"/>
<rect x="219.84" y="958.16" width="41.02" height="43.25" fill="#58a6cb"/>
<rect x="260.81" y="958.16" width="41.02" height="43.25" fill="#88c0da"/>
<rect x="301.78" y="958.16" width="41.02" height="43.25" fill="#72b3d3"/>
<rect x="342.75" y="958.16" width="41.02" height="43.25" fill="#96c8df"/>
<rect x="383.73" y="958.16" width="41.02" height="43.25" fill="#e5d8d4"/>
<rect x="424.70" y="958.16" width="41.02" height="43.25" fill="#72b3d3"/>
<rect x="465.67" y="958.16" width="41.02" height="43.25" fill="#fea088"/>
<rect x="506.64" y="958.16" width="41.02" height="43.25" fill="#fe9b83"/>
<rect x="547.61" y="958.16" width="41.02" height="43.25" fill="#fea58c"/>
<rect x="588.58" y="958.16" width="41.02" height="43.25" fill="#fea58c"/>
<rect x="629.55" y="958.16" width="41.02" height="43.25" fill="#feaf97"/>
<rect x="670.52" y="958.16" width="41.02" height="43.25" fill="#f07b67"/>
<rect x="711.49" y="958.16" width="41.02" height="43.25" fill="#f07b67"/>
<rect x="752.46" y="958.16" width="41.02" height="43.25" fill="#fec2ac"/>
<rect x="793.44" y="958.16" width="41.02" height="43.25" fill="#f4d4c8"/>
<rect x="834.41" y="958.16" width="41.02" height="43.25" fill="#fec7b2"/>
<rect x="875.38" y="958.16" width="41.02" height="43.25" fill="#e5d8d4"/>
<rect x="916.35" y="958.16" width="41.02" height="43.25" fill="#800026"/>
<rect x="957.32" y="958.16" width="41.02" height="43.25" fill="#ec7662"/>
<rect x="998.29" y="958.16" width="41.02" height="43.25" fill="#feaa91"/>
<rect x="1039.26" y="958.16" width="41.02" height="43.25" fill="#fea58c"/>
<rect x="1080.23" y="958.16" width="41.02" height="43.25" fill="#fe9b83"/>
<rect x="1121.20" y="958.16" width="41.02" height="43.25" fill="#f3806b"/>
<rect x="1162.17" y="958.16" width="41.02" height="43.25" fill="#c6d9e3"/>
<rect x="1203.15" y="958.16" width="41.02" height="43.25" fill="#fec2ac"/>
<rect x="1244.12" y="958.16" width="41.02" height="43.25" fill="#feb49c"/>
<rect x="1285.09" y="958.16" width="41.02" height="43.25" fill="#d8534c"/>
<rect x="1326.06" y="958.16" width="41.02" height="43.25" fill="#feb9a1"/>
<rect x="1367.03" y="958.16" width="41.02" height="43.25" fill="#fea58c"/>
<rect x="137.90" y="1001.36" width="41.02" height="43.25" fill="#48a0c7"/>
<rect x="178.87" y="1001.36" width="41.02" height="43.25" fill="#e5d8d4"/>
<rect x="219.84" y="1001.36" width="41.02" height="43.25" fill="#9dcce1"/>
<rect x="260.81" y="1001.36" width="41.02" height="43.25" fill="#c6d9e3"/>
<rect x="301.78" y="1001.36" width="41.02" height="43.25" fill="#f4d4c8"/>
<rect x="342.75" y="1001.36" width="41.02" height="43.25" fill="#fec7b2"/>
<rect x="383.73" y="1001.36" width="41.02" height="43.25" fill="#feb9a1"/>
<rect x="424.70" y="1001.36" width="41.02" height="43.25" fill="#f9d2c3"/>
<rect x="465.67" y="1001.36" width="41.02" height="43.25" fill="#f3806b"/>
<rect x="506.64" y="1001.36" width="41.02" height="43.25" fill="#ec7662"/>
<rect x="547.61" y="1001.36" width="41.02" height="43.25" fill="#d14146"/>
<rect x="588.58" y="1001.36" width="41.02" height="43.25" fill="#e9705e"/>
<rect x="629.55" y="1001.36" width="41.02" height="43.25" fill="#ec7662"/>
<rect x="670.52" y="1001.36" width="41.02" height="43.25" fill="#c52236"/>
<rect x="711.49" y="1001.36" width="41.02" height="43.25" fill="#d8534c"/>
<rect x="752.46" y="1001.36" width="41.02" height="43.25" fill="#d34748"/>
<rect x="793.44" y="1001.36" width="41.02" height="43.25" fill="#fd917a"/>
<rect x="834.41" y="1001.36" width="41.02" height="43.25" fill="#f3806b"/>
<rect x="875.38" y="1001.36" width="41.02" height="43.25" fill="#f88872"/>
<rect x="916.35" y="1001.36" width="41.02" height="43.25" fill="#ec7662"/>
<rect x="957.32" y="1001.36" width="41.02" height="43.25" fill="#800026"/>
<rect x="998.29" y="1001.36" width="41.02" height="43.25" fill="#b3122e"/>
<rect x="1039.26" y="1001.36" width="41.02" height="43.25" fill="#ec7662"/>
<rect x="1080.23" y="1001.36" width="41.02" height="43.25" fill="#ca303c"/>
<rect x="1121.20" y="1001.36" width="41.02" height="43.25" fill="#b3122e"/>
<rect x="1162.17" y="1001.36" width="41.02" height="43.25" fill="#fd917a"/>
<rect x="1203.15" y="1001.36" width="41.02" height="43.25" fill="#fea58c"/>
<rect x="1244.12" y="1001.36" width="41.02" height="43.25" fill="#fd967e"/>
<rect x="1285.09" y="1001.36" width="41.02" height="43.25" fill="#f6846f"/>
<rect x="1326.06" y="1001.36" width="41.02" height="43.25" fill="#d14146"/>
<rect x="1367.03" y="1001.36" width="41.02" height="43.25" fill="#d8534c"/>
<rect x="137.90" y="1044.57" width="41.02" height="43.25" fill="#0476ab"/>
<rect x="178.87" y="1044.57" width="41.02" height="43.25" fill="#d3d9dc"/>
<rect x="219.84" y="1044.57" width="41.02" height="43.25" fill="#96c8df"/>
<rect x="260.81" y="1044.57" width="41.02" height="43.25" fill="#88c0da"/>
<rect x="301.78" y="1044.57" width="41.02" height="43.25" fill="#dfd9d7"/>
<rect x="342.75" y="1044.57" width="41.02" height="43.25" fill="#fdd0bd"/>
<rect x="383.73" y="1044.57" width="41.02" height="43.25" fill="#febda7"/>
<rect x="424.70" y="1044.57" width="41.02" height="43.25" fill="#feb49c"/>
<rect x="465.67" y="1044.57" width="41.02" height="43.25" fill="#e66b5a"/>
<rect x="506.64" y="1044.57" width="41.02" height="43.25" fill="#e26556"/>
<rect x="547.61" y="1044.57" width="41.02" height="43.25" fill="#e26556"/>
<rect x="588.58" y="1044.57" width="41.02" height="43.25" fill="#e9705e"/>
<rect x="629.55" y="1044.57" width="41.02" height="43.25" fill="#fa8d76"/>
<rect x="670.52" y="1044.57" width="41.02" height="43.25" fill="#d34748"/>
<rect x="711.49" y="1044.57" width="41.02" height="43.25" fill="#df5f53"/>
<rect x="752.46" y="1044.57" width="41.02" height="43.25" fill="#dc5950"/>
<rect x="793.44" y="1044.57" width="41.02" height="43.25" fill="#f88872"/>
<rect x="834.41" y="1044.57" width="41.02" height="43.25" fill="#fd917a"/>
<rect x="875.38" y="1044.57" width="41.02" height="43.25" fill="#fa8d76"/>
<rect x="916.35" y="1044.57" width="41.02" height="43.25" fill="#feaa91"/>
<rect x="957.32" y="1044.57" width="41.02" height="43.25" fill="#b3122e"/>
<rect x="998.29" y="1044.57" width="41.02" height="43.25" fill="#800026"/>
<rect x="1039.26" y="1044.57" width="41.02" height="43.25" fill="#fd917a"/>
<rect x="1080.23" y="1044.57" width="41.02" height="43.25" fill="#df5f53"/>
<rect x="1121.20" y="1044.57" width="41.02" height="43.25" fill="#dc5950"/>
<rect x="1162.17" y="1044.57" width="41.02" height="43.25" fill="#feaf97"/>
<rect x="1203.15" y="1044.57" width="41.02" height="43.25" fill="#fec7b2"/>
<rect x="1244.12" y="1044.57" width="41.02" height="43.25" fill="#fea088"/>
<rect x="1285.09" y="1044.57" width="41.02" height="43.25" fill="#fdcbb7"/>
<rect x="1326.06" y="1044.57" width="41.02" height="43.25" fill="#f07b67"/>
<rect x="1367.03" y="1044.57" width="41.02" height="43.25" fill="#fd917a"/>
<rect x="137.90" y="1087.77" width="41.02" height="43.25" fill="#0682b2"/>
<rect x="178.87" y="1087.77" width="41.02" height="43.25" fill="#88c0da"/>
<rect x="219.84" y="1087.77" width="41.02" height="43.25" fill="#48a0c7"/>
<rect x="260.81" y="1087.77" width="41.02" height="43.25" fill="#a4cfe3"/>
<rect x="301.78" y="1087.77" width="41.02" height="43.25" fill="#a4cfe3"/>
<rect x="342.75" y="1087.77" width="41.02" height="43.25" fill="#f0d6ce"/>
<rect x="383.73" y="1087.77" width="41.02" height="43.25" fill="#fd917a"/>
<rect x="424.70" y="1087.77" width="41.02" height="43.25" fill="#a4cfe3"/>
<rect x="465.67" y="1087.77" width="41.02" height="43.25" fill="#febda7"/>
<rect x="506.64" y="1087.77" width="41.02" height="43.25" fill="#feb49c"/>
<rect x="547.61" y="1087.77" width="41.02" height="43.25" fill="#feb9a1"/>
<rect x="588.58" y="1087.77" width="41.02" height="43.25" fill="#feaa91"/>
<rect x="629.55" y="1087.77" width="41.02" height="43.25" fill="#feaa91"/>
<rect x="670.52" y="1087.77" width="41.02" height="43.25" fill="#f88872"/>
<rect x="711.49" y="1087.77" width="41.02" height="43.25" fill="#e9705e"/>
<rect x="752.46" y="1087.77" width="41.02" height="43.25" fill="#febda7"/>
<rect x="793.44" y="1087.77" width="41.02" height="43.25" fill="#feaa91"/>
<rect x="834.41" y="1087.77" width="41.02" height="43.25" fill="#d9d9da"/>
<rect x="875.38" y="1087.77" width="41.02" height="43.25" fill="#f4d4c8"/>
<rect x="916.35" y="1087.77" width="41.02" height="43.25" fill="#fea58c"/>
<rect x="957.32" y="1087.77" width="41.02" height="43.25" fill="#ec7662"/>
<rect x="998.29" y="1087.77" width="41.02" height="43.25" fill="#fd917a"/>
<rect x="1039.26" y="1087.77" width="41.02" height="43.25" fill="#800026"/>
<rect x="1080.23" y="1087.77" width="41.02" height="43.25" fill="#fea088"/>
<rect x="1121.20" y="1087.77" width="41.02" height="43.25" fill="#d8534c"/>
<rect x="1162.17" y="1087.77" width="41.02" height="43.25" fill="#fd967e"/>
<rect x="1203.15" y="1087.77" width="41.02" height="43.25" fill="#f07b67"/>
<rect x="1244.12" y="1087.77" width="41.02" height="43.25" fill="#e9705e"/>
<rect x="1285.09" y="1087.77" width="41.02" height="43.25" fill="#fd917a"/>
<rect x="1326.06" y="1087.77" width="41.02" height="43.25" fill="#fd967e"/>
<rect x="1367.03" y="1087.77" width="41.02" height="43.25" fill="#fd917a"/>
<rect x="137.90" y="1130.97" width="41.02" height="43.25" fill="#0686b4"/>
<rect x="178.87" y="1130.97" width="41.02" height="43.25" fill="#f4d4c8"/>
<rect x="219.84" y="1130.97" width="41.02" height="43.25" fill="#72b3d3"/>
<rect x="260.81" y="1130.97" width="41.02" height="43.25" fill="#dfd9d7"/>
<rect x="301.78" y="1130.97" width="41.02" height="43.25" fill="#cdd9df"/>
<rect x="342.75" y="1130.97" width="41.02" height="43.25" fill="#fdcbb7"/>
<rect x="383.73" y="1130.97" width="41.02" height="43.25" fill="#fdcbb7"/>
<rect x="424.70" y="1130.97" width="41.02" height="43.25" fill="#f4d4c8"/>
<rect x="465.67" y="1130.97" width="41.02" height="43.25" fill="#fec7b2"/>
<rect x="506.64" y="1130.97" width="41.02" height="43.25" fill="#feb49c"/>
<rect x="547.61" y="1130.97" width="41.02" height="43.25" fill="#feb49c"/>
<rect x="588.58" y="1130.97" width="41.02" height="43.25" fill="#febda7"/>
<rect x="629.55" y="1130.97" width="41.02" height="43.25" fill="#febda7"/>
<rect x="670.52" y="1130.97" width="41.02" height="43.25" fill="#f6846f"/>
<rect x="711.49" y="1130.97" width="41.02" height="43.25" fill="#fea088"/>
<rect x="752.46" y="1130.97" width="41.02" height="43.25" fill="#f6846f"/>
<rect x="793.44" y="1130.97" width="41.02" height="43.25" fill="#feaa91"/>
<rect x="834.41" y="1130.97" width="41.02" height="43.25" fill="#fe9b83"/>
<rect x="875.38" y="1130.97" width="41.02" height="43.25" fill="#fea088"/>
<rect x="916.35" y="1130.97" width="41.02" height="43.25" fill="#fe9b83"/>
<rect x="957.32" y="1130.97" width="41.02" height="43.25" fill="#ca303c"/>
<rect x="998.29" y="1130.97" width="41.02" height="43.25" fill="#df5f53"/>
<rect x="1039.26" y="1130.97" width="41.02" height="43.25" fill="#fea088"/>
<rect x="1080.23" y="1130.97" width="41.02" height="43.25" fill="#800026"/>
<rect x="1121.20" y="1130.97" width="41.02" height="43.25" fill="#c52236"/>
<rect x="1162.17" y="1130.97" width="41.02" height="43.25" fill="#fd917a"/>
<rect x="1203.15" y="1130.97" width="41.02" height="43.25" fill="#feb9a1"/>
<rect x="1244.12" y="1130.97" width="41.02" height="43.25" fill="#fea088"/>
<rect x="1285.09" y="1130.97" width="41.02" height="43.25" fill="#fd917a"/>
<rect x="1326.06" y="1130.97" width="41.02" height="43.25" fill="#e9705e"/>
<rect x="1367.03" y="1130.97" width="41.02" height="43.25" fill="#fa8d76"/>
<rect x="137.90" y="1174.18" width="41.02" height="43.25" fill="#48a0c7"/>
<rect x="178.87" y="1174.18" width="41.02" height="43.25" fill="#a4cfe3"/>
<rect x="219.84" y="1174.18" width="41.02" height="43.25" fill="#3399c2"/>
<rect x="260.81" y="1174.18" width="41.02" height="43.25" fill="#c6d9e3"/>
<rect x="301.78" y="1174.18" width="41.02" height="43.25" fill="#dfd9d7"/>
<rect x="342.75" y="1174.18" width="41.02" height="43.25" fill="#feaa91"/>
<rect x="383.73" y="1174.18" width="41.02" height="43.25" fill="#fdcbb7"/>
<rect x="424.70" y="1174.18" width="41.02" height="43.25" fill="#a4cfe3"/>
<rect x="465.67" y="1174.18" width="41.02" height="43.25" fill="#fdcbb7"/>
<rect x="506.64" y="1174.18" width="41.02" height="43.25" fill="#fec7b2"/>
<rect x="547.61" y="1174.18" width="41.02" height="43.25" fill="#fea58c"/>
<rect x="588.58" y="1174.18" width="41.02" height="43.25" fill="#fea58c"/>
<rect x="629.55" y="1174.18" width="41.02" height="43.25" fill="#fea088"/>
<rect x="670.52" y="1174.18" width="41.02" height="43.25" fill="#e9705e"/>
<rect x="711.49" y="1174.18" width="41.02" height="43.25" fill="#e26556"/>
<rect x="752.46" y="1174.18" width="41.02" height="43.25" fill="#f88872"/>
<rect x="793.44" y="1174.18" width="41.02" height="43.25" fill="#feaa91"/>
<rect x="834.41" y="1174.18" width="41.02" height="43.25" fill="#fdd0bd"/>
<rect x="875.38" y="1174.18" width="41.02" height="43.25" fill="#fdd0bd"/>
<rect x="916.35" y="1174.18" width="41.02" height="43.25" fill="#f3806b"/>
<rect x="957.32" y="1174.18" width="41.02" height="43.25" fill="#b3122e"/>
<rect x="998.29" y="1174.18" width="41.02" height="43.25" fill="#dc5950"/>
<rect x="1039.26" y="1174.18" width="41.02" height="43.25" fill="#d8534c"/>
<rect x="1080.23" y="1174.18" width="41.02" height="43.25" fill="#c52236"/>
<rect x="1121.20" y="1174.18" width="41.02" height="43.25" fill="#800026"/>
<rect x="1162.17" y="1174.18" width="41.02" height="43.25" fill="#d64d4a"/>
<rect x="1203.15" y="1174.18" width="41.02" height="43.25" fill="#e26556"/>
<rect x="1244.12" y="1174.18" width="41.02" height="43.25" fill="#e26556"/>
<rect x="1285.09" y="1174.18" width="41.02" height="43.25" fill="#d14146"/>
<rect x="1326.06" y="1174.18" width="41.02" height="43.25" fill="#be1831"/>
<rect x="1367.03" y="1174.18" width="41.02" height="43.25" fill="#c31b33"/>
<rect x="137.90" y="1217.38" width="41.02" height="43.25" fill="#055a8f"/>
<rect x="178.87" y="1217.38" width="41.02" height="43.25" fill="#80bbd8"/>
<rect x="219.84" y="1217.38" width="41.02" height="43.25" fill="#1a90bb"/>
<rect x="260.81" y="1217.38" width="41.02" height="43.25" fill="#abd3e6"/>
<rect x="301.78" y="1217.38" width="41.02" height="43.25" fill="#f4d4c8"/>
<rect x="342.75" y="1217.38" width="41.02" height="43.25" fill="#df5f53"/>
<rect x="383.73" y="1217.38" width="41.02" height="43.25" fill="#8fc4dd"/>
<rect x="424.70" y="1217.38" width="41.02" height="43.25" fill="#79b7d5"/>
<rect x="465.67" y="1217.38" width="41.02" height="43.25" fill="#3e9dc4"/>
<rect x="506.64" y="1217.38" width="41.02" height="43.25" fill="#58a6cb"/>
<rect x="547.61" y="1217.38" width="41.02" height="43.25" fill="#abd3e6"/>
<rect x="588.58" y="1217.38" width="41.02" height="43.25" fill="#abd3e6"/>
<rect x="629.55" y="1217.38" width="41.02" height="43.25" fill="#fdd0bd"/>
<rect x="670.52" y="1217.38" width="41.02" height="43.25" fill="#cdd9df"/>
<rect x="711.49" y="1217.38" width="41.02" height="43.25" fill="#f0d6ce"/>
<rect x="752.46" y="1217.38" width="41.02" height="43.25" fill="#fea58c"/>
<rect x="793.44" y="1217.38" width="41.02" height="43.25" fill="#e5d8d4"/>
<rect x="834.41" y="1217.38" width="41.02" height="43.25" fill="#96c8df"/>
<rect x="875.38" y="1217.38" width="41.02" height="43.25" fill="#96c8df"/>
<rect x="916.35" y="1217.38" width="41.02" height="43.25" fill="#c6d9e3"/>
<rect x="957.32" y="1217.38" width="41.02" height="43.25" fill="#fd917a"/>
<rect x="998.29" y="1217.38" width="41.02" height="43.25" fill="#feaf97"/>
<rect x="1039.26" y="1217.38" width="41.02" height="43.25" fill="#fd967e"/>
<rect x="1080.23" y="1217.38" width="41.02" height="43.25" fill="#fd917a"/>
<rect x="1121.20" y="1217.38" width="41.02" height="43.25" fill="#d64d4a"/>
<rect x="1162.17" y="1217.38" width="41.02" height="43.25" fill="#800026"/>
<rect x="1203.15" y="1217.38" width="41.02" height="43.25" fill="#fe9b83"/>
<rect x="1244.12" y="1217.38" width="41.02" height="43.25" fill="#feaa91"/>
<rect x="1285.09" y="1217.38" width="41.02" height="43.25" fill="#fe9b83"/>
<rect x="1326.06" y="1217.38" width="41.02" height="43.25" fill="#e9705e"/>
<rect x="1367.03" y="1217.38" width="41.02" height="43.25" fill="#f07b67"/>
<rect x="137.90" y="1260.58" width="41.02" height="43.25" fill="#0b89b6"/>
<rect x="178.87" y="1260.58" width="41.02" height="43.25" fill="#0686b4"/>
<rect x="219.84" y="1260.58" width="41.02" height="43.25" fill="#046ca3"/>
<rect x="260.81" y="1260.58" width="41.02" height="43.25" fill="#3e9dc4"/>
<rect x="301.78" y="1260.58" width="41.02" height="43.25" fill="#52a3c9"/>
<rect x="342.75" y="1260.58" width="41.02" height="43.25" fill="#abd3e6"/>
<rect x="383.73" y="1260.58" width="41.02" height="43.25" fill="#c6d9e3"/>
<rect x="424.70" y="1260.58" width="41.02" height="43.25" fill="#0b89b6"/>
<rect x="465.67" y="1260.58" width="41.02" height="43.25" fill="#b2d6e8"/>
<rect x="506.64" y="1260.58" width="41.02" height="43.25" fill="#b2d6e8"/>
<rect x="547.61" y="1260.58" width="41.02" height="43.25" fill="#a4cfe3"/>
<rect x="588.58" y="1260.58" width="41.02" height="43.25" fill="#fec2ac"/>
<rect x="629.55" y="1260.58" width="41.02" height="43.25" fill="#fdd0bd"/>
<rect x="670.52" y="1260.58" width="41.02" height="43.25" fill="#ead7d1"/>
<rect x="711.49" y="1260.58" width="41.02" height="43.25" fill="#feaa91"/>
<rect x="752.46" y="1260.58" width="41.02" height="43.25" fill="#f0d6ce"/>
<rect x="793.44" y="1260.58" width="41.02" height="43.25" fill="#cdd9df"/>
<rect x="834.41" y="1260.58" width="41.02" height="43.25" fill="#b2d6e8"/>
<rect x="875.38" y="1260.58" width="41.02" height="43.25" fill="#a4cfe3"/>
<rect x="916.35" y="1260.58" width="41.02" height="43.25" fill="#fec2ac"/>
<rect x="957.32" y="1260.58" width="41.02" height="43.25" fill="#fea58c"/>
<rect x="998.29" y="1260.58" width="41.02" height="43.25" fill="#fec7b2"/>
<rect x="1039.26" y="1260.58" width="41.02" height="43.25" fill="#f07b67"/>
<rect x="1080.23" y="1260.58" width="41.02" height="43.25" fill="#feb9a1"/>
<rect x="1121.20" y="1260.58" width="41.02" height="43.25" fill="#e26556"/>
<rect x="1162.17" y="1260.58" width="41.02" height="43.25" fill="#fe9b83"/>
<rect x="1203.15" y="1260.58" width="41.02" height="43.25" fill="#800026"/>
<rect x="1244.12" y="1260.58" width="41.02" height="43.25" fill="#a90c2d"/>
<rect x="1285.09" y="1260.58" width="41.02" height="43.25" fill="#dc5950"/>
<rect x="1326.06" y="1260.58" width="41.02" height="43.25" fill="#f3806b"/>
<rect x="1367.03" y="1260.58" width="41.02" height="43.25" fill="#d34748"/>
<rect x="137.90" y="1303.79" width="41.02" height="43.25" fill="#0b89b6"/>
<rect x="178.87" y="1303.79" width="41.02" height="43.25" fill="#58a6cb"/>
<rect x="219.84" y="1303.79" width="41.02" height="43.25" fill="#0476ab"/>
<rect x="260.81" y="1303.79" width="41.02" height="43.25" fill="#52a3c9"/>
<rect x="301.78" y="1303.79" width="41.02" height="43.25" fill="#6cb0d1"/>
<rect x="342.75" y="1303.79" width="41.02" height="43.25" fill="#b2d6e8"/>
<rect x="383.73" y="1303.79" width="41.02" height="43.25" fill="#ead7d1"/>
<rect x="424.70" y="1303.79" width="41.02" height="43.25" fill="#79b7d5"/>
<rect x="465.67" y="1303.79" width="41.02" height="43.25" fill="#fdcbb7"/>
<rect x="506.64" y="1303.79" width="41.02" height="43.25" fill="#fec2ac"/>
<rect x="547.61" y="1303.79" width="41.02" height="43.25" fill="#f0d6ce"/>
<rect x="588.58" y="1303.79" width="41.02" height="43.25" fill="#fe9b83"/>
<rect x="629.55" y="1303.79" width="41.02" height="43.25" fill="#feb49c"/>
<rect x="670.52" y="1303.79" width="41.02" height="43.25" fill="#febda7"/>
<rect x="711.49" y="1303.79" width="41.02" height="43.25" fill="#fd917a"/>
<rect x="752.46" y="1303.79" width="41.02" height="43.25" fill="#febda7"/>
<rect x="793.44" y="1303.79" width="41.02" height="43.25" fill="#fec7b2"/>
<rect x="834.41" y="1303.79" width="41.02" height="43.25" fill="#e5d8d4"/>
<rect x="875.38" y="1303.79" width="41.02" height="43.25" fill="#f4d4c8"/>
<rect x="916.35" y="1303.79" width="41.02" height="43.25" fill="#feb49c"/>
<rect x="957.32" y="1303.79" width="41.02" height="43.25" fill="#fd967e"/>
<rect x="998.29" y="1303.79" width="41.02" height="43.25" fill="#fea088"/>
<rect x="1039.26" y="1303.79" width="41.02" height="43.25" fill="#e9705e"/>
<rect x="1080.23" y="1303.79" width="41.02" height="43.25" fill="#fea088"/>
<rect x="1121.20" y="1303.79" width="41.02" height="43.25" fill="#e26556"/>
<rect x="1162.17" y="1303.79" width="41.02" height="43.25" fill="#feaa91"/>
<rect x="1203.15" y="1303.79" width="41.02" height="43.25" fill="#a90c2d"/>
<rect x="1244.12" y="1303.79" width="41.02" height="43.25" fill="#800026"/>
<rect x="1285.09" y="1303.79" width="41.02" height="43.25" fill="#f3806b"/>
<rect x="1326.06" y="1303.79" width="41.02" height="43.25" fill="#fd917a"/>
<rect x="1367.03" y="1303.79" width="41.02" height="43.25" fill="#ec7662"/>
<rect x="137.90" y="1346.99" width="41.02" height="43.25" fill="#abd3e6"/>
<rect x="178.87" y="1346.99" width="41.02" height="43.25" fill="#3e9dc4"/>
<rect x="219.84" y="1346.99" width="41.02" height="43.25" fill="#057eb0"/>
<rect x="260.81" y="1346.99" width="41.02" height="43.25" fill="#5fa9cd"/>
<rect x="301.78" y="1346.99" width="41.02" height="43.25" fill="#48a0c7"/>
<rect x="342.75" y="1346.99" width="41.02" height="43.25" fill="#b2d6e8"/>
<rect x="383.73" y="1346.99" width="41.02" height="43.25" fill="#b2d6e8"/>
<rect x="424.70" y="1346.99" width="41.02" height="43.25" fill="#046aa0"/>
<rect x="465.67" y="1346.99" width="41.02" height="43.25" fill="#a4cfe3"/>
<rect x="506.64" y="1346.99" width="41.02" height="43.25" fill="#abd3e6"/>
<rect x="547.61" y="1346.99" width="41.02" height="43.25" fill="#c6d9e3"/>
<rect x="588.58" y="1346.99" width="41.02" height="43.25" fill="#fdcbb7"/>
<rect x="629.55" y="1346.99" width="41.02" height="43.25" fill="#fec2ac"/>
<rect x="670.52" y="1346.99" width="41.02" height="43.25" fill="#fec2ac"/>
<rect x="711.49" y="1346.99" width="41.02" height="43.25" fill="#fea58c"/>
<rect x="752.46" y="1346.99" width="41.02" height="43.25" fill="#d3d9dc"/>
<rect x="793.44" y="1346.99" width="41.02" height="43.25" fill="#96c8df"/>
<rect x="834.41" y="1346.99" width="41.02" height="43.25" fill="#abd3e6"/>
<rect x="875.38" y="1346.99" width="41.02" height="43.25" fill="#65adcf"/>
<rect x="916.35" y="1346.99" width="41.02" height="43.25" fill="#d8534c"/>
<rect x="957.32" y="1346.99" width="41.02" height="43.25" fill="#f6846f"/>
<rect x="998.29" y="1346.99" width="41.02" height="43.25" fill="#fdcbb7"/>
<rect x="1039.26" y="1346.99" width="41.02" height="43.25" fill="#fd917a"/>
<rect x="1080.23" y="1346.99" width="41.02" height="43.25" fill="#fd917a"/>
<rect x="1121.20" y="1346.99" width="41.02" height="43.25" fill="#d14146"/>
<rect x="1162.17" y="1346.99" width="41.02" height="43.25" fill="#fe9b83"/>
<rect x="1203.15" y="1346.99" width="41.02" height="43.25" fill="#dc5950"/>
<rect x="1244.12" y="1346.99" width="41.02" height="43.25" fill="#f3806b"/>
<rect x="1285.09" y="1346.99" width="41.02" height="43.25" fill="#800026"/>
<rect x="1326.06" y="1346.99" width="41.02" height="43.25" fill="#e9705e"/>
<rect x="1367.03" y="1346.99" width="41.02" height="43.25" fill="#ca303c"/>
<rect x="137.90" y="1390.19" width="41.02" height="43.25" fill="#1a90bb"/>
<rect x="178.87" y="1390.19" width="41.02" height="43.25" fill="#0682b2"/>
<rect x="219.84" y="1390.19" width="41.02" height="43.25" fill="#0686b4"/>
<rect x="260.81" y="1390.19" width="41.02" height="43.25" fill="#79b7d5"/>
<rect x="301.78" y="1390.19" width="41.02" height="43.25" fill="#88c0da"/>
<rect x="342.75" y="1390.19" width="41.02" height="43.25" fill="#f4d4c8"/>
<rect x="383.73" y="1390.19" width="41.02" height="43.25" fill="#b9daea"/>
<rect x="424.70" y="1390.19" width="41.02" height="43.25" fill="#1a90bb"/>
<rect x="465.67" y="1390.19" width="41.02" height="43.25" fill="#abd3e6"/>
<rect x="506.64" y="1390.19" width="41.02" height="43.25" fill="#a4cfe3"/>
<rect x="547.61" y="1390.19" width="41.02" height="43.25" fill="#fdcbb7"/>
<rect x="588.58" y="1390.19" width="41.02" height="43.25" fill="#ead7d1"/>
<rect x="629.55" y="1390.19" width="41.02" height="43.25" fill="#fdd0bd"/>
<rect x="670.52" y="1390.19" width="41.02" height="43.25" fill="#feaf97"/>
<rect x="711.49" y="1390.19" width="41.02" height="43.25" fill="#feaf97"/>
<rect x="752.46" y="1390.19" width="41.02" height="43.25" fill="#fea58c"/>
<rect x="793.44" y="1390.19" width="41.02" height="43.25" fill="#dfd9d7"/>
<rect x="834.41" y="1390.19" width="41.02" height="43.25" fill="#e5d8d4"/>
<rect x="875.38" y="1390.19" width="41.02" height="43.25" fill="#abd3e6"/>
<rect x="916.35" y="1390.19" width="41.02" height="43.25" fill="#feb9a1"/>
<rect x="957.32" y="1390.19" width="41.02" height="43.25" fill="#d14146"/>
<rect x="998.29" y="1390.19" width="41.02" height="43.25" fill="#f07b67"/>
<rect x="1039.26" y="1390.19" width="41.02" height="43.25" fill="#fd967e"/>
<rect x="1080.23" y="1390.19" width="41.02" height="43.25" fill="#e9705e"/>
<rect x="1121.20" y="1390.19" width="41.02" height="43.25" fill="#be1831"/>
<rect x="1162.17" y="1390.19" width="41.02" height="43.25" fill="#e9705e"/>
<rect x="1203.15" y="1390.19" width="41.02" height="43.25" fill="#f3806b"/>
<rect x="1244.12" y="1390.19" width="41.02" height="43.25" fill="#fd917a"/>
<rect x="1285.09" y="1390.19" width="41.02" height="43.25" fill="#e9705e"/>
<rect x="1326.06" y="1390.19" width="41.02" height="43.25" fill="#800026"/>
<rect x="1367.03" y="1390.19" width="41.02" height="43.25" fill="#a90c2d"/>
<rect x="137.90" y="1433.40" width="41.02" height="43.25" fill="#6cb0d1"/>
<rect x="178.87" y="1433.40" width="41.02" height="43.25" fill="#057eb0"/>
<rect x="219.84" y="1433.40" width="41.02" height="43.25" fill="#046fa6"/>
<rect x="260.81" y="1433.40" width="41.02" height="43.25" fill="#58a6cb"/>
<rect x="301.78" y="1433.40" width="41.02" height="43.25" fill="#6cb0d1"/>
<rect x="342.75" y="1433.40" width="41.02" height="43.25" fill="#cdd9df"/>
<rect x="383.73" y="1433.40" width="41.02" height="43.25" fill="#b9daea"/>
<rect x="424.70" y="1433.40" width="41.02" height="43.25" fill="#057eb0"/>
<rect x="465.67" y="1433.40" width="41.02" height="43.25" fill="#b2d6e8"/>
<rect x="506.64" y="1433.40" width="41.02" height="43.25" fill="#b2d6e8"/>
<rect x="547.61" y="1433.40" width="41.02" height="43.25" fill="#fec7b2"/>
<rect x="588.58" y="1433.40" width="41.02" height="43.25" fill="#fec2ac"/>
<rect x="629.55" y="1433.40" width="41.02" height="43.25" fill="#feaa91"/>
<rect x="670.52" y="1433.40" width="41.02" height="43.25" fill="#feaf97"/>
<rect x="711.49" y="1433.40" width="41.02" height="43.25" fill="#fea58c"/>
<rect x="752.46" y="1433.40" width="41.02" height="43.25" fill="#fec2ac"/>
<rect x="793.44" y="1433.40" width="41.02" height="43.25" fill="#b2d6e8"/>
<rect x="834.41" y="1433.40" width="41.02" height="43.25" fill="#e5d8d4"/>
<rect x="875.38" y="1433.40" width="41.02" height="43.25" fill="#88c0da"/>
<rect x="916.35" y="1433.40" width="41.02" height="43.25" fill="#fea58c"/>
<rect x="957.32" y="1433.40" width="41.02" height="43.25" fill="#d8534c"/>
<rect x="998.29" y="1433.40" width="41.02" height="43.25" fill="#fd917a"/>
<rect x="1039.26" y="1433.40" width="41.02" height="43.25" fill="#fd917a"/>
<rect x="1080.23" y="1433.40" width="41.02" height="43.25" fill="#fa8d76"/>
<rect x="1121.20" y="1433.40" width="41.02" height="43.25" fill="#c31b33"/>
<rect x="1162.17" y="1433.40" width="41.02" height="43.25" fill="#f07b67"/>
<rect x="1203.15" y="1433.40" width="41.02" height="43.25" fill="#d34748"/>
<rect x="1244.12" y="1433.40" width="41.02" height="43.25" fill="#ec7662"/>
<rect x="1285.09" y="1433.40" width="41.02" height="43.25" fill="#ca303c"/>
<rect x="1326.06" y="1433.40" width="41.02" height="43.25" fill="#a90c2d"/>
<rect x="1367.03" y="1433.40" width="41.02" height="43.25" fill="#800026"/>
</g>
<path d="M137.90 136.10V1477.80M136.70 137.30H1409.20M178.87 136.10V1477.80M136.70 180.50H1409.20M219.84 136.10V1477.80M136.70 223.71H1409.20M260.81 136.10V1477.80M136.70 266.91H1409.20M301.78 136.10V1477.80M136.70 310.11H1409.20M342.75 136.10V1477.80M136.70 353.32H1409.20M383.73 136.10V1477.80M136.70 396.52H1409.20M424.70 136.10V1477.80M136.70 439.72H1409.20M465.67 136.10V1477.80M136.70 482.93H1409.20M506.64 136.10V1477.80M136.70 526.13H1409.20M547.61 136.10V1477.80M136.70 569.33H1409.20M588.58 136.10V1477.80M136.70 612.54H1409.20M629.55 136.10V1477.80M136.70 655.74H1409.20M670.52 136.10V1477.80M136.70 698.94H1409.20M711.49 136.10V1477.80M136.70 742.15H1409.20M752.46 136.10V1477.80M136.70 785.35H1409.20M793.44 136.10V1477.80M136.70 828.55H1409.20M834.41 136.10V1477.80M136.70 871.75H1409.20M875.38 136.10V1477.80M136.70 914.96H1409.20M916.35 136.10V1477.80M136.70 958.16H1409.20M957.32 136.10V1477.80M136.70 1001.36H1409.20M998.29 136.10V1477.80M136.70 1044.57H1409.20M1039.26 136.10V1477.80M136.70 1087.77H1409.20M1080.23 136.10V1477.80M136.70 1130.97H1409.20M1121.20 136.10V1477.80M136.70 1174.18H1409.20M1162.17 136.10V1477.80M136.70 1217.38H1409.20M1203.15 136.10V1477.80M136.70 1260.58H1409.20M1244.12 136.10V1477.80M136.70 1303.79H1409.20M1285.09 136.10V1477.80M136.70 1346.99H1409.20M1326.06 136.10V1477.80M136.70 1390.19H1409.20M1367.03 136.10V1477.80M136.70 1433.40H1409.20M1408.00 136.10V1477.80M136.70 1476.60H1409.20" stroke="#9a9a9a" stroke-width="2.4" fill="none"/>
<rect x="1497.2" y="137.6" width="24.10" height="360.40" fill="url(#cb)"/>
</g>
<g filter="url(#soft)">
<path d="M137.90 136.10V1477.80M136.70 137.30H1409.20M178.87 136.10V1477.80M136.70 180.50H1409.20M219.84 136.10V1477.80M136.70 223.71H1409.20M260.81 136.10V1477.80M136.70 266.91H1409.20M301.78 136.10V1477.80M136.70 310.11H1409.20M342.75 136.10V1477.80M136.70 353.32H1409.20M383.73 136.10V1477.80M136.70 396.52H1409.20M424.70 136.10V1477.80M136.70 439.72H1409.20M465.67 136.10V1477.80M136.70 482.93H1409.20M506.64 136.10V1477.80M136.70 526.13H1409.20M547.61 136.10V1477.80M136.70 569.33H1409.20M588.58 136.10V1477.80M136.70 612.54H1409.20M629.55 136.10V1477.80M136.70 655.74H1409.20M670.52 136.10V1477.80M136.70 698.94H1409.20M711.49 136.10V1477.80M136.70 742.15H1409.20M752.46 136.10V1477.80M136.70 785.35H1409.20M793.44 136.10V1477.80M136.70 828.55H1409.20M834.41 136.10V1477.80M136.70 871.75H1409.20M875.38 136.10V1477.80M136.70 914.96H1409.20M916.35 136.10V1477.80M136.70 958.16H1409.20M957.32 136.10V1477.80M136.70 1001.36H1409.20M998.29 136.10V1477.80M136.70 1044.57H1409.20M1039.26 136.10V1477.80M136.70 1087.77H1409.20M1080.23 136.10V1477.80M136.70 1130.97H1409.20M1121.20 136.10V1477.80M136.70 1174.18H1409.20M1162.17 136.10V1477.80M136.70 1217.38H1409.20M1203.15 136.10V1477.80M136.70 1260.58H1409.20M1244.12 136.10V1477.80M136.70 1303.79H1409.20M1285.09 136.10V1477.80M136.70 1346.99H1409.20M1326.06 136.10V1477.80M136.70 1390.19H1409.20M1367.03 136.10V1477.80M136.70 1433.40H1409.20M1408.00 136.10V1477.80M136.70 1476.60H1409.20" stroke="#9c9c9c" stroke-width="2.0" stroke-opacity="0.4" fill="none"/>
<path d="M199.36 136.10V105.40H240.33V136.10M322.27 136.10V107.60H363.24V136.10M281.30 136.10V98.00H342.75V107.60M404.21 136.10V94.80H445.18V136.10M312.03 98.00V80.50H424.70V94.80M219.84 105.40V75.40H368.36V80.50M486.15 136.10V131.30H527.12V136.10M568.10 136.10V122.00H609.07V136.10M506.64 131.30V118.90H588.58V122.00M691.01 136.10V123.60H731.98V136.10M650.04 136.10V114.40H711.49V123.60M547.61 118.90V109.30H680.77V114.40M772.95 136.10V115.70H813.92V136.10M854.89 136.10V113.40H895.86V136.10M793.44 115.70V104.50H875.38V113.40M614.19 109.30V93.30H834.41V104.50M977.80 136.10V120.50H1018.78V136.10M1100.72 136.10V114.70H1141.69V136.10M1059.75 136.10V110.00H1121.20V114.70M998.29 120.50V102.90H1090.47V110.00M936.83 136.10V98.70H1044.38V102.90M1223.63 136.10V120.50H1264.60V136.10M1346.54 136.10V125.00H1387.51V136.10M1305.57 136.10V112.20H1367.03V125.00M1244.12 120.50V107.70H1336.30V112.20M1182.66 136.10V97.50H1290.21V107.70M990.61 98.70V78.60H1236.43V97.50M724.30 93.30V61.00H1113.52V78.60M294.10 75.40V36.00H918.91V61.00M158.39 136.10V10.50H606.51V36.00" stroke="#000" stroke-width="2.2" fill="none" stroke-linecap="butt" stroke-linejoin="round"/>
<path d="M136.70 202.10H106.30V245.31H136.70M136.70 331.71H108.50V374.92H136.70M136.70 288.51H98.90V353.32H108.50M136.70 418.12H95.70V461.32H136.70M98.90 320.91H81.40V439.72H95.70M106.30 223.71H76.30V380.32H81.40M136.70 504.53H132.20V547.73H136.70M136.70 590.93H122.90V634.14H136.70M132.20 526.13H119.80V612.54H122.90M136.70 720.54H124.50V763.75H136.70M136.70 677.34H115.30V742.15H124.50M119.80 569.33H110.20V709.74H115.30M136.70 806.95H116.60V850.15H136.70M136.70 893.36H114.30V936.56H136.70M116.60 828.55H105.40V914.96H114.30M110.20 639.54H94.20V871.75H105.40M136.70 1022.97H121.40V1066.17H136.70M136.70 1152.58H115.60V1195.78H136.70M136.70 1109.37H110.90V1174.18H115.60M121.40 1044.57H103.80V1141.78H110.90M136.70 979.76H99.60V1093.17H103.80M136.70 1282.19H121.40V1325.39H136.70M136.70 1411.80H125.90V1455.00H136.70M136.70 1368.59H113.10V1433.40H125.90M121.40 1303.79H108.60V1400.99H113.10M136.70 1238.98H98.40V1352.39H108.60M99.60 1036.47H79.50V1295.69H98.40M94.20 755.65H61.90V1166.08H79.50M76.30 302.01H36.90V960.86H61.90M136.70 158.90H11.40V631.44H36.90" stroke="#000" stroke-width="2.2" fill="none" stroke-linecap="butt" stroke-linejoin="round"/>
<text x="1414.9" y="165.50" stroke="#151515" stroke-width="0.5">Urea</text>
<text x="1414.9" y="208.70" stroke="#151515" stroke-width="0.5">His</text>
<text x="1414.9" y="251.91" stroke="#151515" stroke-width="0.5">Form</text>
<text x="1414.9" y="295.11" stroke="#151515" stroke-width="0.5">Val</text>
<text x="1414.9" y="338.31" stroke="#151515" stroke-width="0.5">MA</text>
<text x="1414.9" y="381.52" stroke="#151515" stroke-width="0.5">DMA</text>
<text x="1414.9" y="424.72" stroke="#151515" stroke-width="0.5">iso-But</text>
<text x="1414.9" y="467.92" stroke="#151515" stroke-width="0.5">MeOH</text>
<text x="1414.9" y="511.13" stroke="#151515" stroke-width="0.5">N-Ac-1</text>
<text x="1414.9" y="554.33" stroke="#151515" stroke-width="0.5">N-Ac-2</text>
<text x="1414.9" y="597.53" stroke="#151515" stroke-width="0.5">Glu</text>
<text x="1414.9" y="640.74" stroke="#151515" stroke-width="0.5">Gln</text>
<text x="1414.9" y="683.94" stroke="#151515" stroke-width="0.5">Suc</text>
<text x="1414.9" y="727.14" stroke="#151515" stroke-width="0.5">N-Ac-3</text>
<text x="1414.9" y="770.35" stroke="#151515" stroke-width="0.5">Pyr</text>
<text x="1414.9" y="813.55" stroke="#151515" stroke-width="0.5">Chol</text>
<text x="1414.9" y="856.75" stroke="#151515" stroke-width="0.5">Gly</text>
<text x="1414.9" y="899.96" stroke="#151515" stroke-width="0.5">Lac</text>
<text x="1414.9" y="943.16" stroke="#151515" stroke-width="0.5">Tau</text>
<text x="1414.9" y="986.36" stroke="#151515" stroke-width="0.5">Tyr</text>
<text x="1414.9" y="1029.57" stroke="#151515" stroke-width="0.5">Ace</text>
<text x="1414.9" y="1072.77" stroke="#151515" stroke-width="0.5">Thy</text>
<text x="1414.9" y="1115.97" stroke="#151515" stroke-width="0.5">5-AV</text>
<text x="1414.9" y="1159.18" stroke="#151515" stroke-width="0.5">3-D-HB</text>
<text x="1414.9" y="1202.38" stroke="#151515" stroke-width="0.5">Ala</text>
<text x="1414.9" y="1245.58" stroke="#151515" stroke-width="0.5">TMA</text>
<text x="1414.9" y="1288.79" stroke="#151515" stroke-width="0.5">Prop</text>
<text x="1414.9" y="1331.99" stroke="#151515" stroke-width="0.5">A</text>
<text x="1414.9" y="1375.19" stroke="#151515" stroke-width="0.5">Phe</text>
<text x="1414.9" y="1418.40" stroke="#151515" stroke-width="0.5">n-Cap</text>
<text x="1414.9" y="1461.60" stroke="#151515" stroke-width="0.5">n-But</text>
<text transform="translate(150.99 1483.8) rotate(90)" stroke="#151515" stroke-width="0.5">Urea</text>
<text transform="translate(191.96 1483.8) rotate(90)" stroke="#151515" stroke-width="0.5">His</text>
<text transform="translate(232.93 1483.8) rotate(90)" stroke="#151515" stroke-width="0.5">Form</text>
<text transform="translate(273.90 1483.8) rotate(90)" stroke="#151515" stroke-width="0.5">Val</text>
<text transform="translate(314.87 1483.8) rotate(90)" stroke="#151515" stroke-width="0.5">MA</text>
<text transform="translate(355.84 1483.8) rotate(90)" stroke="#151515" stroke-width="0.5">DMA</text>
<text transform="translate(396.81 1483.8) rotate(90)" stroke="#151515" stroke-width="0.5">iso-But</text>
<text transform="translate(437.78 1483.8) rotate(90)" stroke="#151515" stroke-width="0.5">MeOH</text>
<text transform="translate(478.75 1483.8) rotate(90)" stroke="#151515" stroke-width="0.5">N-Ac-1</text>
<text transform="translate(519.72 1483.8) rotate(90)" stroke="#151515" stroke-width="0.5">N-Ac-2</text>
<text transform="translate(560.70 1483.8) rotate(90)" stroke="#151515" stroke-width="0.5">Glu</text>
<text transform="translate(601.67 1483.8) rotate(90)" stroke="#151515" stroke-width="0.5">Gln</text>
<text transform="translate(642.64 1483.8) rotate(90)" stroke="#151515" stroke-width="0.5">Suc</text>
<text transform="translate(683.61 1483.8) rotate(90)" stroke="#151515" stroke-width="0.5">N-Ac-3</text>
<text transform="translate(724.58 1483.8) rotate(90)" stroke="#151515" stroke-width="0.5">Pyr</text>
<text transform="translate(765.55 1483.8) rotate(90)" stroke="#151515" stroke-width="0.5">Chol</text>
<text transform="translate(806.52 1483.8) rotate(90)" stroke="#151515" stroke-width="0.5">Gly</text>
<text transform="translate(847.49 1483.8) rotate(90)" stroke="#151515" stroke-width="0.5">Lac</text>
<text transform="translate(888.46 1483.8) rotate(90)" stroke="#151515" stroke-width="0.5">Tau</text>
<text transform="translate(929.43 1483.8) rotate(90)" stroke="#151515" stroke-width="0.5">Tyr</text>
<text transform="translate(970.40 1483.8) rotate(90)" stroke="#151515" stroke-width="0.5">Ace</text>
<text transform="translate(1011.38 1483.8) rotate(90)" stroke="#151515" stroke-width="0.5">Thy</text>
<text transform="translate(1052.35 1483.8) rotate(90)" stroke="#151515" stroke-width="0.5">5-AV</text>
<text transform="translate(1093.32 1483.8) rotate(90)" stroke="#151515" stroke-width="0.5">3-D-HB</text>
<text transform="translate(1134.29 1483.8) rotate(90)" stroke="#151515" stroke-width="0.5">Ala</text>
<text transform="translate(1175.26 1483.8) rotate(90)" stroke="#151515" stroke-width="0.5">TMA</text>
<text transform="translate(1216.23 1483.8) rotate(90)" stroke="#151515" stroke-width="0.5">Prop</text>
<text transform="translate(1257.20 1483.8) rotate(90)" stroke="#151515" stroke-width="0.5">A</text>
<text transform="translate(1298.17 1483.8) rotate(90)" stroke="#151515" stroke-width="0.5">Phe</text>
<text transform="translate(1339.14 1483.8) rotate(90)" stroke="#151515" stroke-width="0.5">n-Cap</text>
<text transform="translate(1380.11 1483.8) rotate(90)" stroke="#151515" stroke-width="0.5">n-But</text>
<text x="1530.5" y="144.40" stroke="#151515" stroke-width="0.5">1</text>
<text x="1530.5" y="206.01" stroke="#151515" stroke-width="0.5">0.8</text>
<text x="1530.5" y="267.61" stroke="#151515" stroke-width="0.5">0.6</text>
<text x="1530.5" y="329.22" stroke="#151515" stroke-width="0.5">0.4</text>
<text x="1530.5" y="390.83" stroke="#151515" stroke-width="0.5">0.2</text>
<text x="1530.5" y="452.43" stroke="#151515" stroke-width="0.5">0</text>
</g></svg>
</body></html>
